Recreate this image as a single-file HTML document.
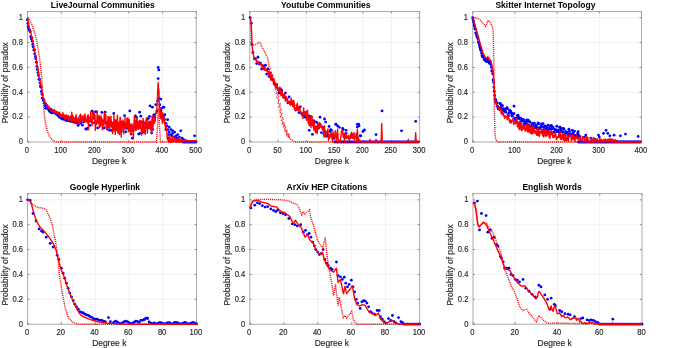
<!DOCTYPE html><html><head><meta charset="utf-8"><style>html,body{margin:0;padding:0;background:#fff;width:675px;height:348px;overflow:hidden}svg{display:block}text{font-family:"Liberation Sans", sans-serif}.t{will-change:transform}</style></head><body>
<svg width="675" height="348" viewBox="0 0 675 348" style="will-change:transform">
<rect width="675" height="348" fill="#fff"/>
<path d="M61.26,11.50V142.00M95.02,11.50V142.00M128.78,11.50V142.00M162.54,11.50V142.00M27.50,117.14H196.30M27.50,92.29H196.30M27.50,67.43H196.30M27.50,42.57H196.30M27.50,17.71H196.30" stroke="#e8e8e8" stroke-width="0.6" fill="none"/>
<rect x="27.50" y="11.50" width="168.80" height="130.50" stroke="#ababab" stroke-width="1" fill="none"/>
<path d="M27.50,142.00v-1.9M27.50,11.50v1.9M61.26,142.00v-1.9M61.26,11.50v1.9M95.02,142.00v-1.9M95.02,11.50v1.9M128.78,142.00v-1.9M128.78,11.50v1.9M162.54,142.00v-1.9M162.54,11.50v1.9M196.30,142.00v-1.9M196.30,11.50v1.9M27.50,142.00h1.9M196.30,142.00h-1.9M27.50,117.14h1.9M196.30,117.14h-1.9M27.50,92.29h1.9M196.30,92.29h-1.9M27.50,67.43h1.9M196.30,67.43h-1.9M27.50,42.57h1.9M196.30,42.57h-1.9M27.50,17.71h1.9M196.30,17.71h-1.9" stroke="#808080" stroke-width="0.9" fill="none"/>
<clipPath id="c0"><rect x="25.50" y="9.50" width="172.80" height="134.50"/></clipPath>
<g clip-path="url(#c0)">
<g fill="#0000ff"><circle cx="27.28" cy="19.81" r="1.4"/><circle cx="27.83" cy="23.45" r="1.4"/><circle cx="28.14" cy="26.62" r="1.4"/><circle cx="28.52" cy="28.69" r="1.4"/><circle cx="29.30" cy="30.19" r="1.4"/><circle cx="29.65" cy="30.13" r="1.4"/><circle cx="30.33" cy="31.86" r="1.4"/><circle cx="30.66" cy="36.64" r="1.4"/><circle cx="31.44" cy="39.06" r="1.4"/><circle cx="31.87" cy="37.82" r="1.4"/><circle cx="32.35" cy="41.21" r="1.4"/><circle cx="32.71" cy="44.47" r="1.4"/><circle cx="33.10" cy="46.82" r="1.4"/><circle cx="33.78" cy="49.97" r="1.4"/><circle cx="34.48" cy="49.84" r="1.4"/><circle cx="34.71" cy="53.99" r="1.4"/><circle cx="35.45" cy="56.74" r="1.4"/><circle cx="35.74" cy="58.58" r="1.4"/><circle cx="36.32" cy="62.24" r="1.4"/><circle cx="36.92" cy="66.29" r="1.4"/><circle cx="37.40" cy="69.41" r="1.4"/><circle cx="37.89" cy="72.60" r="1.4"/><circle cx="38.46" cy="75.42" r="1.4"/><circle cx="39.03" cy="79.22" r="1.4"/><circle cx="39.44" cy="79.50" r="1.4"/><circle cx="40.01" cy="82.90" r="1.4"/><circle cx="40.38" cy="85.89" r="1.4"/><circle cx="41.01" cy="87.19" r="1.4"/><circle cx="41.38" cy="91.52" r="1.4"/><circle cx="42.05" cy="94.25" r="1.4"/><circle cx="42.22" cy="98.03" r="1.4"/><circle cx="43.00" cy="98.57" r="1.4"/><circle cx="43.42" cy="100.44" r="1.4"/><circle cx="43.71" cy="100.30" r="1.4"/><circle cx="44.37" cy="103.17" r="1.4"/><circle cx="44.90" cy="105.64" r="1.4"/><circle cx="45.61" cy="103.79" r="1.4"/><circle cx="45.73" cy="108.30" r="1.4"/><circle cx="46.39" cy="105.34" r="1.4"/><circle cx="46.94" cy="106.05" r="1.4"/><circle cx="47.39" cy="108.13" r="1.4"/><circle cx="48.09" cy="108.01" r="1.4"/><circle cx="48.39" cy="109.25" r="1.4"/><circle cx="49.02" cy="109.95" r="1.4"/><circle cx="49.36" cy="111.10" r="1.4"/><circle cx="50.08" cy="111.64" r="1.4"/><circle cx="50.36" cy="111.84" r="1.4"/><circle cx="51.20" cy="109.71" r="1.4"/><circle cx="51.50" cy="112.97" r="1.4"/><circle cx="51.99" cy="110.75" r="1.4"/><circle cx="52.55" cy="110.94" r="1.4"/><circle cx="53.18" cy="111.53" r="1.4"/><circle cx="53.68" cy="112.91" r="1.4"/><circle cx="53.90" cy="112.17" r="1.4"/><circle cx="54.74" cy="112.87" r="1.4"/><circle cx="54.95" cy="112.14" r="1.4"/><circle cx="55.73" cy="112.41" r="1.4"/><circle cx="56.13" cy="112.62" r="1.4"/><circle cx="56.46" cy="114.23" r="1.4"/><circle cx="57.27" cy="112.93" r="1.4"/><circle cx="57.70" cy="114.71" r="1.4"/><circle cx="58.14" cy="115.68" r="1.4"/><circle cx="58.48" cy="114.04" r="1.4"/><circle cx="59.13" cy="116.29" r="1.4"/><circle cx="59.54" cy="117.23" r="1.4"/><circle cx="59.98" cy="115.62" r="1.4"/><circle cx="60.53" cy="117.18" r="1.4"/><circle cx="61.26" cy="118.25" r="1.4"/><circle cx="61.81" cy="117.30" r="1.4"/><circle cx="62.27" cy="116.02" r="1.4"/><circle cx="62.72" cy="119.14" r="1.4"/><circle cx="63.21" cy="117.91" r="1.4"/><circle cx="63.58" cy="117.89" r="1.4"/><circle cx="64.23" cy="118.61" r="1.4"/><circle cx="64.63" cy="119.50" r="1.4"/><circle cx="65.04" cy="118.23" r="1.4"/><circle cx="65.87" cy="120.43" r="1.4"/><circle cx="66.25" cy="118.80" r="1.4"/><circle cx="66.80" cy="120.00" r="1.4"/><circle cx="67.11" cy="120.23" r="1.4"/><circle cx="67.85" cy="118.24" r="1.4"/><circle cx="68.34" cy="120.47" r="1.4"/><circle cx="68.67" cy="120.53" r="1.4"/><circle cx="69.30" cy="120.85" r="1.4"/><circle cx="69.83" cy="118.87" r="1.4"/><circle cx="70.25" cy="121.29" r="1.4"/><circle cx="70.65" cy="119.93" r="1.4"/><circle cx="71.35" cy="121.39" r="1.4"/><circle cx="71.82" cy="118.83" r="1.4"/><circle cx="72.36" cy="118.98" r="1.4"/><circle cx="72.96" cy="121.35" r="1.4"/><circle cx="73.16" cy="119.09" r="1.4"/><circle cx="73.74" cy="122.13" r="1.4"/><circle cx="74.34" cy="120.82" r="1.4"/><circle cx="74.67" cy="119.27" r="1.4"/><circle cx="75.30" cy="119.07" r="1.4"/><circle cx="75.72" cy="122.62" r="1.4"/><circle cx="76.48" cy="121.81" r="1.4"/><circle cx="77.00" cy="121.19" r="1.4"/><circle cx="77.41" cy="122.64" r="1.4"/><circle cx="77.74" cy="120.62" r="1.4"/><circle cx="78.53" cy="120.17" r="1.4"/><circle cx="79.01" cy="120.42" r="1.4"/><circle cx="79.55" cy="122.50" r="1.4"/><circle cx="79.71" cy="122.56" r="1.4"/><circle cx="80.40" cy="122.16" r="1.4"/><circle cx="80.69" cy="123.15" r="1.4"/><circle cx="78.14" cy="125.41" r="1.4"/><circle cx="79.22" cy="123.29" r="1.4"/><circle cx="80.30" cy="116.32" r="1.4"/><circle cx="81.38" cy="119.91" r="1.4"/><circle cx="82.46" cy="125.20" r="1.4"/><circle cx="83.54" cy="121.97" r="1.4"/><circle cx="84.62" cy="121.13" r="1.4"/><circle cx="85.70" cy="128.96" r="1.4"/><circle cx="86.78" cy="129.13" r="1.4"/><circle cx="87.86" cy="128.11" r="1.4"/><circle cx="88.94" cy="118.32" r="1.4"/><circle cx="90.02" cy="125.40" r="1.4"/><circle cx="91.10" cy="120.79" r="1.4"/><circle cx="92.18" cy="111.19" r="1.4"/><circle cx="93.26" cy="113.63" r="1.4"/><circle cx="94.34" cy="122.68" r="1.4"/><circle cx="95.43" cy="111.86" r="1.4"/><circle cx="96.51" cy="111.87" r="1.4"/><circle cx="97.59" cy="127.95" r="1.4"/><circle cx="98.67" cy="117.65" r="1.4"/><circle cx="99.75" cy="123.33" r="1.4"/><circle cx="100.83" cy="120.66" r="1.4"/><circle cx="101.91" cy="112.44" r="1.4"/><circle cx="102.99" cy="121.68" r="1.4"/><circle cx="104.07" cy="128.00" r="1.4"/><circle cx="105.15" cy="112.16" r="1.4"/><circle cx="106.23" cy="123.19" r="1.4"/><circle cx="107.31" cy="129.01" r="1.4"/><circle cx="108.39" cy="124.23" r="1.4"/><circle cx="109.47" cy="130.35" r="1.4"/><circle cx="110.55" cy="123.62" r="1.4"/><circle cx="111.63" cy="130.42" r="1.4"/><circle cx="112.71" cy="125.55" r="1.4"/><circle cx="113.79" cy="113.42" r="1.4"/><circle cx="114.87" cy="124.15" r="1.4"/><circle cx="115.95" cy="128.98" r="1.4"/><circle cx="117.03" cy="128.52" r="1.4"/><circle cx="118.11" cy="126.61" r="1.4"/><circle cx="119.19" cy="123.62" r="1.4"/><circle cx="120.27" cy="131.52" r="1.4"/><circle cx="121.35" cy="131.24" r="1.4"/><circle cx="122.43" cy="121.98" r="1.4"/><circle cx="123.51" cy="123.45" r="1.4"/><circle cx="124.59" cy="115.68" r="1.4"/><circle cx="125.67" cy="131.89" r="1.4"/><circle cx="126.75" cy="128.21" r="1.4"/><circle cx="127.83" cy="124.04" r="1.4"/><circle cx="128.92" cy="127.58" r="1.4"/><circle cx="130.00" cy="126.64" r="1.4"/><circle cx="131.08" cy="133.99" r="1.4"/><circle cx="132.16" cy="130.32" r="1.4"/><circle cx="133.24" cy="126.91" r="1.4"/><circle cx="134.32" cy="126.97" r="1.4"/><circle cx="135.40" cy="116.02" r="1.4"/><circle cx="136.48" cy="117.32" r="1.4"/><circle cx="137.56" cy="124.61" r="1.4"/><circle cx="138.64" cy="134.06" r="1.4"/><circle cx="139.72" cy="133.48" r="1.4"/><circle cx="140.80" cy="116.13" r="1.4"/><circle cx="141.88" cy="122.24" r="1.4"/><circle cx="142.96" cy="128.35" r="1.4"/><circle cx="144.04" cy="132.15" r="1.4"/><circle cx="145.12" cy="123.70" r="1.4"/><circle cx="146.20" cy="124.90" r="1.4"/><circle cx="147.28" cy="119.34" r="1.4"/><circle cx="148.36" cy="118.41" r="1.4"/><circle cx="149.44" cy="116.40" r="1.4"/><circle cx="150.52" cy="122.30" r="1.4"/><circle cx="151.60" cy="132.89" r="1.4"/><circle cx="152.68" cy="129.60" r="1.4"/><circle cx="153.76" cy="115.39" r="1.4"/><circle cx="154.84" cy="117.38" r="1.4"/><circle cx="155.79" cy="104.71" r="1.4"/><circle cx="156.80" cy="110.93" r="1.4"/><circle cx="157.48" cy="100.99" r="1.4"/><circle cx="159.16" cy="98.50" r="1.4"/><circle cx="159.84" cy="104.71" r="1.4"/><circle cx="160.85" cy="110.93" r="1.4"/><circle cx="161.53" cy="108.44" r="1.4"/><circle cx="162.54" cy="114.66" r="1.4"/><circle cx="163.55" cy="117.14" r="1.4"/><circle cx="164.57" cy="119.63" r="1.4"/><circle cx="165.92" cy="123.36" r="1.4"/><circle cx="166.93" cy="125.84" r="1.4"/><circle cx="167.94" cy="129.57" r="1.4"/><circle cx="169.29" cy="132.06" r="1.4"/><circle cx="170.98" cy="134.54" r="1.4"/><circle cx="172.67" cy="133.30" r="1.4"/><circle cx="174.36" cy="137.03" r="1.4"/><circle cx="176.04" cy="135.79" r="1.4"/><circle cx="177.73" cy="138.27" r="1.4"/><circle cx="154.10" cy="114.66" r="1.4"/><circle cx="152.41" cy="107.20" r="1.4"/><circle cx="129.79" cy="110.93" r="1.4"/><circle cx="139.58" cy="112.17" r="1.4"/><circle cx="150.05" cy="105.96" r="1.4"/><circle cx="132.49" cy="138.27" r="1.4"/><circle cx="158.15" cy="67.43" r="1.4"/><circle cx="158.83" cy="69.91" r="1.4"/><circle cx="158.15" cy="78.61" r="1.4"/><circle cx="160.85" cy="99.12" r="1.4"/><circle cx="163.22" cy="107.20" r="1.4"/><circle cx="163.89" cy="107.20" r="1.4"/><circle cx="164.90" cy="114.66" r="1.4"/><circle cx="167.60" cy="119.63" r="1.4"/><circle cx="169.29" cy="127.09" r="1.4"/><circle cx="170.98" cy="129.57" r="1.4"/><circle cx="172.67" cy="130.81" r="1.4"/><circle cx="174.69" cy="132.06" r="1.4"/><circle cx="177.73" cy="134.54" r="1.4"/><circle cx="180.77" cy="130.81" r="1.4"/><circle cx="179.42" cy="137.03" r="1.4"/><circle cx="182.12" cy="138.27" r="1.4"/><circle cx="183.47" cy="139.51" r="1.4"/><circle cx="186.17" cy="140.76" r="1.4"/><circle cx="194.61" cy="135.79" r="1.4"/><circle cx="165.92" cy="129.57" r="1.4"/><circle cx="168.62" cy="134.54" r="1.4"/><circle cx="171.99" cy="135.79" r="1.4"/><circle cx="176.04" cy="138.27" r="1.4"/><circle cx="182.80" cy="142.00" r="1.4"/><circle cx="183.81" cy="142.00" r="1.4"/><circle cx="184.82" cy="142.00" r="1.4"/><circle cx="185.83" cy="142.00" r="1.4"/><circle cx="186.85" cy="142.00" r="1.4"/><circle cx="187.86" cy="142.00" r="1.4"/><circle cx="188.87" cy="142.00" r="1.4"/><circle cx="189.89" cy="142.00" r="1.4"/><circle cx="190.90" cy="142.00" r="1.4"/><circle cx="191.91" cy="142.00" r="1.4"/><circle cx="192.92" cy="142.00" r="1.4"/><circle cx="193.94" cy="142.00" r="1.4"/><circle cx="194.95" cy="142.00" r="1.4"/><circle cx="195.96" cy="142.00" r="1.4"/></g>
<path d="M27.50,17.71L27.77,19.29L28.04,20.88L28.31,22.51L28.58,24.05L28.85,25.64L29.12,26.92L29.39,27.94L29.66,28.90L29.93,29.93L30.20,31.00L30.47,31.80L30.74,32.79L31.01,33.69L31.28,34.93L31.55,36.05L31.82,37.14L32.09,38.35L32.36,39.05L32.63,40.43L32.90,41.52L33.17,42.78L33.44,43.90L33.71,45.55L33.98,47.21L34.25,48.58L34.52,49.72L34.79,51.31L35.06,52.87L35.33,54.17L35.60,55.38L35.87,56.56L36.14,58.89L36.41,60.23L36.68,61.79L36.95,63.76L37.22,64.84L37.49,66.52L37.76,67.54L38.03,69.61L38.30,71.79L38.57,72.72L38.84,74.74L39.11,76.92L39.38,78.20L39.65,79.55L39.92,80.81L40.19,81.61L40.46,83.66L40.73,84.03L41.00,85.14L41.27,86.99L41.54,88.67L41.81,90.45L42.08,91.91L42.35,94.19L42.62,94.41L42.89,96.79L43.16,97.33L43.43,98.97L43.70,98.19L43.97,98.69L44.24,100.12L44.52,99.76L44.79,101.69L45.06,101.92L45.33,102.57L45.60,103.90L45.87,103.73L46.14,103.53L46.41,105.53L46.68,104.68L46.95,105.56L47.22,104.67L47.49,105.69L47.76,105.83L48.03,106.11L48.30,106.61L48.57,107.92L48.84,106.39L49.11,108.45L49.38,107.66L49.65,107.66L49.92,108.91L50.19,108.50L50.46,108.04L50.73,109.14L51.00,110.01L51.27,111.61L51.54,110.61L51.81,110.49L52.08,110.58L52.35,111.06L52.62,110.18L52.89,111.05L53.16,110.83L53.43,110.35L53.70,111.70L53.97,111.40L54.24,109.55L54.51,110.72L54.78,112.67L55.05,111.78L55.32,111.35L55.59,110.86L55.86,111.99L56.13,112.78L56.40,113.13L56.67,111.89L56.94,112.36L57.21,113.37L57.48,113.16L57.75,113.56L58.02,112.40L58.29,114.16L58.56,112.91L58.83,112.59L59.10,113.15L59.37,114.93L59.64,112.28L59.91,115.03L60.18,113.70L60.45,115.43L60.72,116.95L60.99,114.34L61.26,114.38L61.53,115.03L61.80,114.64L62.07,116.16L62.34,116.44L62.61,115.70L62.88,112.55L63.15,114.39L63.42,116.68L63.69,115.04L63.96,116.90L64.23,117.00L64.50,114.86L64.77,117.40L65.04,119.59L65.31,118.38L65.58,116.71L65.85,116.76L66.12,114.80L66.39,118.62L66.66,115.98L66.93,116.62L67.20,117.80L67.47,115.89L67.74,116.62L68.01,119.44L68.28,115.52L68.55,120.33L68.82,117.72L69.09,117.90L69.36,117.05L69.63,119.58L69.90,118.15L70.17,118.44L70.44,115.99L70.71,120.01L70.98,118.14L71.25,118.95L71.52,121.36L71.79,112.32L72.06,118.65L72.33,121.99L72.60,115.27L72.87,121.14L73.14,117.77L73.41,116.63L73.68,120.30L73.95,119.82L74.22,120.14L74.49,119.18L74.76,122.92L75.03,122.03L75.30,119.34L75.57,116.40L75.84,117.46L76.11,114.68L76.38,117.36L76.65,120.52L76.92,119.56L77.19,124.62L77.46,121.86L77.73,122.08L78.00,118.67L78.28,117.69L78.55,121.01L78.82,121.13L79.09,123.82L79.36,119.96L79.63,118.96L79.90,118.44L80.17,121.94L80.44,114.13L80.71,116.40L80.98,120.13L81.25,121.42L81.52,120.87L81.79,119.54L82.06,120.08L82.33,118.63L82.60,117.82L82.87,116.06L83.14,116.74L83.41,120.56L83.68,119.08L83.95,121.47L84.22,122.12L84.49,114.43L84.76,121.80L85.03,114.17L85.30,121.52L85.57,119.65L85.84,117.01L86.11,120.42L86.38,119.26L86.65,121.33L86.92,122.12L87.19,121.14L87.46,122.76L87.73,115.27L88.00,121.24L88.27,114.97L88.54,129.73L88.81,120.70L89.08,118.88L89.35,121.81L89.62,117.10L89.89,118.67L90.16,121.84L90.43,119.42L90.70,111.45L90.97,120.11L91.24,119.96L91.51,122.61L91.78,120.61L92.05,125.72L92.32,121.85L92.59,112.31L92.86,117.34L93.13,118.90L93.40,117.23L93.67,114.38L93.94,119.14L94.21,113.68L94.48,117.41L94.75,120.80L95.02,114.99L95.29,130.38L95.56,123.67L95.83,120.53L96.10,125.03L96.37,122.18L96.64,124.05L96.91,124.14L97.18,111.22L97.45,119.26L97.72,121.91L97.99,116.62L98.26,122.67L98.53,118.32L98.80,120.43L99.07,115.44L99.34,127.43L99.61,118.85L99.88,121.41L100.15,126.51L100.42,117.70L100.69,125.45L100.96,115.51L101.23,119.96L101.50,119.24L101.77,121.74L102.04,118.43L102.31,129.68L102.58,121.83L102.85,124.72L103.12,121.03L103.39,122.40L103.66,119.70L103.93,125.71L104.20,114.68L104.47,112.71L104.74,123.19L105.01,122.41L105.28,121.18L105.55,117.14L105.82,114.51L106.09,127.59L106.36,125.15L106.63,127.09L106.90,127.36L107.17,129.66L107.44,121.18L107.71,127.73L107.98,116.37L108.25,118.96L108.52,127.34L108.79,127.39L109.06,125.64L109.33,116.96L109.60,126.77L109.87,129.63L110.14,123.38L110.41,121.57L110.68,126.13L110.95,116.16L111.22,122.27L111.49,121.37L111.76,127.22L112.04,123.64L112.31,124.20L112.58,133.67L112.85,122.31L113.12,131.65L113.39,123.81L113.66,130.32L113.93,114.71L114.20,122.34L114.47,119.98L114.74,119.76L115.01,129.90L115.28,134.27L115.55,125.49L115.82,119.97L116.09,123.64L116.36,120.52L116.63,119.85L116.90,130.91L117.17,122.84L117.44,115.22L117.71,126.80L117.98,133.49L118.25,125.31L118.52,126.40L118.79,122.38L119.06,128.42L119.33,123.93L119.60,134.57L119.87,120.47L120.14,117.11L120.41,118.46L120.68,131.48L120.95,123.02L121.22,137.16L121.49,123.24L121.76,124.87L122.03,129.23L122.30,123.02L122.57,124.01L122.84,120.29L123.11,124.10L123.38,123.63L123.65,133.85L123.92,130.21L124.19,127.03L124.46,123.43L124.73,124.88L125.00,117.81L125.27,129.00L125.54,126.05L125.81,123.74L126.08,126.07L126.35,122.65L126.62,127.73L126.89,118.31L127.16,126.59L127.43,119.79L127.70,125.27L127.97,118.03L128.24,131.85L128.51,122.73L128.78,127.29L129.05,124.14L129.32,119.56L129.59,130.75L129.86,131.65L130.13,130.12L130.40,124.15L130.67,134.42L130.94,124.96L131.21,131.60L131.48,130.94L131.75,127.26L132.02,123.70L132.29,128.54L132.56,127.92L132.83,125.79L133.10,126.92L133.37,138.45L133.64,127.73L133.91,125.29L134.18,120.47L134.45,115.95L134.72,122.58L134.99,125.41L135.26,130.43L135.53,125.42L135.80,122.14L136.07,119.84L136.34,130.13L136.61,124.81L136.88,122.06L137.15,117.09L137.42,124.79L137.69,128.63L137.96,129.37L138.23,127.80L138.50,129.24L138.77,122.19L139.04,121.05L139.31,122.72L139.58,120.51L139.85,128.41L140.12,124.45L140.39,128.13L140.66,126.11L140.93,120.48L141.20,126.51L141.47,135.31L141.74,127.62L142.01,129.85L142.28,133.68L142.55,130.27L142.82,121.91L143.09,118.48L143.36,128.88L143.63,121.77L143.90,120.95L144.17,132.15L144.44,126.81L144.71,126.86L144.98,125.84L145.25,134.31L145.52,128.37L145.80,121.66L146.07,120.70L146.34,118.00L146.61,128.40L146.88,117.86L147.15,123.64L147.42,133.35L147.69,123.22L147.96,128.57L148.23,124.42L148.50,127.41L148.77,121.16L149.04,125.73L149.31,128.33L149.58,122.38L149.85,125.80L150.12,129.02L150.39,120.95L150.66,129.03L150.93,129.81L151.20,128.92L151.47,132.93L151.74,128.13L152.01,116.16L152.28,128.98L152.55,124.17L152.82,129.09L153.09,126.28L153.36,115.26L153.63,117.41L153.90,123.79L154.17,120.01L154.44,123.17L154.71,122.14L154.98,121.93L155.25,120.65L155.52,114.40L155.79,112.75L156.06,112.42L156.33,112.99L156.60,113.41L156.87,109.73L157.14,104.71L157.41,99.38L157.68,92.82L157.95,85.40L158.22,82.79L158.49,90.41L158.76,88.81L159.03,93.24L159.30,107.28L159.57,107.52L159.84,107.30L160.11,117.17L160.38,109.62L160.65,116.40L160.92,118.97L161.19,112.06L161.46,115.67L161.73,118.88L162.00,114.72L162.27,123.38L162.54,112.67L162.81,120.68L163.08,117.81L163.35,120.12L163.62,118.04L163.89,117.09L164.16,122.97L164.43,119.39L164.70,123.44L164.97,125.54L165.24,125.23L165.51,128.39L165.78,128.79L166.05,125.16L166.32,129.59L166.59,127.44L166.86,130.79L167.13,136.11L167.40,139.82L167.67,137.90L167.94,136.54L168.21,138.37L168.48,141.71L168.75,137.56L169.02,142.00L169.29,142.00L169.56,140.06L169.83,134.97L170.10,139.50L170.37,142.00L170.64,139.22L170.91,139.08L171.18,138.50L171.45,141.73L171.72,142.00L171.99,140.48L172.26,139.79L172.53,137.07L172.80,135.98L173.07,142.00L173.34,141.93L173.61,140.90L173.88,141.31L174.15,139.69L174.42,139.70L174.69,140.20L174.96,137.90L175.23,141.09L175.50,142.00L175.77,142.00L176.04,142.00L176.31,142.00L176.58,142.00L176.85,139.51L177.12,140.42L177.39,141.51L177.66,142.00L177.93,142.00L178.20,142.00L178.47,137.88L178.74,142.00L179.01,140.55L179.28,139.72L179.56,140.57L179.83,141.16L180.10,139.81L180.37,142.00L180.64,140.13L180.91,139.23L181.18,141.81L181.45,141.54L181.72,140.63L181.99,139.92L182.26,139.70L182.53,140.25L182.80,141.21L183.07,140.91L183.34,140.76L183.61,140.76L183.88,140.76L184.15,140.76L184.42,140.76L184.69,140.76L184.96,140.76L185.23,140.76L185.50,140.76L185.77,140.76L186.04,140.76L186.31,140.76L186.58,140.76L186.85,140.76L187.12,140.76L187.39,140.76L187.66,140.76L187.93,140.76L188.20,140.76L188.47,140.76L188.74,140.76L189.01,140.76L189.28,140.76L189.55,140.76L189.82,140.76L190.09,140.76L190.36,140.76L190.63,140.76L190.90,140.76L191.17,140.76L191.44,140.76L191.71,140.76L191.98,140.76L192.25,140.76L192.52,140.76L192.79,140.76L193.06,140.76L193.33,140.76L193.60,140.76L193.87,140.76L194.14,140.76L194.41,140.76L194.68,140.76L194.95,140.76L195.22,140.76L195.49,140.76L195.76,140.76L196.03,140.76L196.30,140.76L196.57,140.76" stroke="#ff0000" stroke-width="1.4" stroke-linejoin="round" fill="none"/>
<path d="M27.50,17.71L27.84,18.07L28.18,18.42L28.51,18.78L28.85,19.13L29.19,19.49L29.53,19.84L29.86,20.20L30.20,20.98L30.54,21.75L30.88,22.53L31.21,23.31L31.55,24.08L31.89,24.86L32.23,25.64L32.56,26.41L32.90,27.45L33.24,28.49L33.58,29.52L33.91,30.56L34.25,31.59L34.59,32.63L34.93,33.87L35.26,35.11L35.60,36.36L35.94,37.60L36.28,38.84L36.62,40.71L36.95,42.57L37.29,44.44L37.63,46.30L37.97,48.29L38.30,50.28L38.64,52.27L38.98,54.25L39.32,56.24L39.65,58.98L39.99,61.71L40.33,64.45L40.67,67.18L41.00,69.91L41.34,73.82L41.68,77.73L42.02,81.63L42.35,86.32L42.69,91.79L43.03,97.26L43.37,102.23L43.70,107.20L44.04,112.17L44.38,114.97L44.72,117.76L45.06,120.56L45.39,123.36L45.73,124.65L46.07,125.93L46.41,127.22L46.74,128.51L47.08,129.80L47.42,130.90L47.76,131.88L48.09,132.86L48.43,133.83L48.77,134.81L49.11,135.79L49.44,136.25L49.78,136.71L50.12,137.17L50.46,137.63L50.79,138.09L51.13,138.56L51.47,139.02L51.81,139.28L52.14,139.54L52.48,139.80L52.82,140.07L53.16,140.33L53.50,140.59L53.83,140.85L54.17,141.12L54.51,141.38L54.85,141.44L55.18,141.50L55.52,141.56L55.86,141.63L56.20,141.69L56.53,141.75L56.87,141.81L57.21,141.88L57.55,141.94L57.88,142.00L58.22,142.00L58.56,142.00L58.90,142.00L59.23,142.00L59.57,142.00L59.91,142.00L60.25,142.00L60.58,142.00L60.92,142.00L61.26,142.00L61.60,142.00L61.94,142.00L62.27,142.00L62.61,142.00L62.95,142.00L63.29,142.00L63.62,142.00L63.96,142.00L64.30,142.00L64.64,142.00L64.97,142.00L65.31,142.00L65.65,142.00L65.99,142.00L66.32,142.00L66.66,142.00L67.00,142.00L67.34,142.00L67.67,142.00L68.01,142.00L68.35,142.00L68.69,142.00L69.02,142.00L69.36,142.00L69.70,142.00L70.04,142.00L70.38,142.00L70.71,142.00L71.05,142.00L71.39,142.00L71.73,142.00L72.06,142.00L72.40,142.00L72.74,142.00L73.08,142.00L73.41,142.00L73.75,142.00L74.09,142.00L74.43,142.00L74.76,142.00L75.10,142.00L75.44,142.00L75.78,142.00L76.11,142.00L76.45,142.00L76.79,142.00L77.13,142.00L77.46,142.00L77.80,142.00L78.14,142.00L78.48,142.00L78.82,142.00L79.15,142.00L79.49,142.00L79.83,142.00L80.17,142.00L80.50,142.00L80.84,142.00L81.18,142.00L81.52,142.00L81.85,142.00L82.19,142.00L82.53,142.00L82.87,142.00L83.20,142.00L83.54,142.00L83.88,142.00L84.22,142.00L84.55,142.00L84.89,142.00L85.23,142.00L85.57,142.00L85.90,142.00L86.24,142.00L86.58,142.00L86.92,142.00L87.26,142.00L87.59,142.00L87.93,142.00L88.27,142.00L88.61,142.00L88.94,142.00L89.28,142.00L89.62,142.00L89.96,142.00L90.29,142.00L90.63,142.00L90.97,142.00L91.31,142.00L91.64,142.00L91.98,142.00L92.32,142.00L92.66,142.00L92.99,142.00L93.33,142.00L93.67,142.00L94.01,142.00L94.34,142.00L94.68,142.00L95.02,142.00L95.36,142.00L95.70,142.00L96.03,142.00L96.37,142.00L96.71,142.00L97.05,142.00L97.38,142.00L97.72,142.00L98.06,142.00L98.40,142.00L98.73,142.00L99.07,142.00L99.41,142.00L99.75,142.00L100.08,142.00L100.42,142.00L100.76,142.00L101.10,142.00L101.43,142.00L101.77,142.00L102.11,142.00L102.45,142.00L102.78,142.00L103.12,142.00L103.46,142.00L103.80,142.00L104.14,142.00L104.47,142.00L104.81,142.00L105.15,142.00L105.49,142.00L105.82,142.00L106.16,142.00L106.50,142.00L106.84,142.00L107.17,142.00L107.51,142.00L107.85,142.00L108.19,142.00L108.52,142.00L108.86,142.00L109.20,142.00L109.54,142.00L109.87,142.00L110.21,142.00L110.55,142.00L110.89,142.00L111.22,142.00L111.56,142.00L111.90,142.00L112.24,142.00L112.58,142.00L112.91,142.00L113.25,142.00L113.59,142.00L113.93,142.00L114.26,142.00L114.60,142.00L114.94,142.00L115.28,142.00L115.61,142.00L115.95,142.00L116.29,142.00L116.63,142.00L116.96,142.00L117.30,142.00L117.64,142.00L117.98,142.00L118.31,142.00L118.65,142.00L118.99,142.00L119.33,142.00L119.66,142.00L120.00,142.00L120.34,142.00L120.68,142.00L121.02,142.00L121.35,142.00L121.69,142.00L122.03,142.00L122.37,142.00L122.70,142.00L123.04,142.00L123.38,142.00L123.72,142.00L124.05,142.00L124.39,142.00L124.73,142.00L125.07,142.00L125.40,142.00L125.74,142.00L126.08,142.00L126.42,142.00L126.75,142.00L127.09,142.00L127.43,142.00L127.77,142.00L128.10,142.00L128.44,142.00L128.78,142.00L129.12,142.00L129.46,142.00L129.79,142.00L130.13,142.00L130.47,142.00L130.81,142.00L131.14,142.00L131.48,142.00L131.82,142.00L132.16,142.00L132.49,142.00L132.83,142.00L133.17,142.00L133.51,142.00L133.84,142.00L134.18,142.00L134.52,142.00L134.86,142.00L135.19,142.00L135.53,142.00L135.87,142.00L136.21,142.00L136.54,142.00L136.88,142.00L137.22,142.00L137.56,142.00L137.90,142.00L138.23,142.00L138.57,142.00L138.91,142.00L139.25,142.00L139.58,142.00L139.92,142.00L140.26,142.00L140.60,142.00L140.93,142.00L141.27,142.00L141.61,142.00L141.95,142.00L142.28,142.00L142.62,142.00L142.96,142.00L143.30,142.00L143.63,142.00L143.97,142.00L144.31,142.00L144.65,142.00L144.98,142.00L145.32,142.00L145.66,142.00L146.00,142.00L146.34,142.00L146.67,142.00L147.01,142.00L147.35,142.00L147.69,142.00L148.02,142.00L148.36,142.00L148.70,142.00L149.04,142.00L149.37,142.00L149.71,142.00L150.05,142.00L150.39,142.00L150.72,142.00L151.06,142.00L151.40,142.00L151.74,142.00L152.07,142.00L152.41,142.00L152.75,142.00L153.09,142.00L153.42,142.00L153.76,142.00L154.10,142.00L154.44,142.00L154.78,142.00L155.11,142.00L155.45,142.00L155.79,142.00L156.13,142.00L156.46,142.00L156.80,137.03L157.14,132.06L157.48,127.09L157.81,117.76L158.15,108.44L158.49,108.44L158.83,108.44L159.16,117.76L159.50,127.09L159.84,132.06L160.18,137.03L160.51,142.00L160.85,142.00L161.19,142.00L161.53,142.00L161.86,142.00L162.20,142.00L162.54,142.00L162.88,142.00L163.22,142.00L163.55,142.00L163.89,142.00L164.23,142.00L164.57,142.00L164.90,142.00L165.24,142.00L165.58,142.00L165.92,142.00L166.25,142.00L166.59,142.00L166.93,142.00L167.27,142.00L167.60,142.00L167.94,142.00L168.28,142.00L168.62,142.00L168.95,142.00L169.29,142.00L169.63,142.00L169.97,142.00L170.30,142.00L170.64,142.00L170.98,142.00L171.32,142.00L171.66,142.00L171.99,142.00L172.33,142.00L172.67,142.00L173.01,142.00L173.34,142.00L173.68,142.00L174.02,142.00L174.36,142.00L174.69,142.00L175.03,142.00L175.37,142.00L175.71,142.00L176.04,142.00L176.38,142.00L176.72,142.00L177.06,142.00L177.39,142.00L177.73,142.00L178.07,142.00L178.41,142.00L178.74,142.00L179.08,142.00L179.42,142.00L179.76,142.00L180.10,142.00L180.43,142.00L180.77,142.00L181.11,142.00L181.45,142.00L181.78,142.00L182.12,142.00L182.46,142.00L182.80,142.00L183.13,142.00L183.47,142.00L183.81,142.00L184.15,142.00L184.48,142.00L184.82,142.00L185.16,142.00L185.50,142.00L185.83,142.00L186.17,142.00L186.51,142.00L186.85,142.00L187.18,142.00L187.52,142.00L187.86,142.00L188.20,142.00L188.54,142.00L188.87,142.00L189.21,142.00L189.55,142.00L189.89,142.00L190.22,142.00L190.56,142.00L190.90,142.00L191.24,142.00L191.57,142.00L191.91,142.00L192.25,142.00L192.59,142.00L192.92,142.00L193.26,142.00L193.60,142.00L193.94,142.00L194.27,142.00L194.61,142.00L194.95,142.00L195.29,142.00L195.62,142.00L195.96,142.00L196.30,142.00" stroke="#ff0000" stroke-width="1.45" stroke-dasharray="1 0.95" fill="none"/>
</g>
<g font-size="8.20" fill="#262626" stroke="#262626" stroke-width="0.15"><text x="24.79" y="152.90" textLength="4.23" lengthAdjust="spacingAndGlyphs">0</text><text x="54.32" y="152.90" textLength="12.68" lengthAdjust="spacingAndGlyphs">100</text><text x="88.08" y="152.90" textLength="12.68" lengthAdjust="spacingAndGlyphs">200</text><text x="121.84" y="152.90" textLength="12.68" lengthAdjust="spacingAndGlyphs">300</text><text x="155.60" y="152.90" textLength="12.68" lengthAdjust="spacingAndGlyphs">400</text><text x="189.36" y="152.90" textLength="12.68" lengthAdjust="spacingAndGlyphs">500</text><text x="18.67" y="144.30" textLength="4.23" lengthAdjust="spacingAndGlyphs">0</text><text x="12.33" y="119.44" textLength="10.57" lengthAdjust="spacingAndGlyphs">0.2</text><text x="12.33" y="94.59" textLength="10.57" lengthAdjust="spacingAndGlyphs">0.4</text><text x="12.33" y="69.73" textLength="10.57" lengthAdjust="spacingAndGlyphs">0.6</text><text x="12.33" y="44.87" textLength="10.57" lengthAdjust="spacingAndGlyphs">0.8</text><text x="18.67" y="20.01" textLength="4.23" lengthAdjust="spacingAndGlyphs">1</text></g>
<text x="109.10" y="163.80" text-anchor="middle" font-size="8.45" fill="#262626" stroke="#262626" stroke-width="0.15">Degree k</text>
<text transform="translate(7.60,82.75) rotate(-90)" text-anchor="middle" font-size="8.4" fill="#262626" stroke="#262626" stroke-width="0.15">Probability of paradox</text>
<text x="102.80" y="7.50" text-anchor="middle" font-size="8.5" font-weight="bold" fill="#000">LiveJournal Communities</text>
<path d="M278.11,11.50V142.00M306.42,11.50V142.00M334.73,11.50V142.00M363.03,11.50V142.00M391.34,11.50V142.00M249.80,117.14H419.65M249.80,92.29H419.65M249.80,67.43H419.65M249.80,42.57H419.65M249.80,17.71H419.65" stroke="#e8e8e8" stroke-width="0.6" fill="none"/>
<rect x="249.80" y="11.50" width="169.85" height="130.50" stroke="#ababab" stroke-width="1" fill="none"/>
<path d="M249.80,142.00v-1.9M249.80,11.50v1.9M278.11,142.00v-1.9M278.11,11.50v1.9M306.42,142.00v-1.9M306.42,11.50v1.9M334.73,142.00v-1.9M334.73,11.50v1.9M363.03,142.00v-1.9M363.03,11.50v1.9M391.34,142.00v-1.9M391.34,11.50v1.9M419.65,142.00v-1.9M419.65,11.50v1.9M249.80,142.00h1.9M419.65,142.00h-1.9M249.80,117.14h1.9M419.65,117.14h-1.9M249.80,92.29h1.9M419.65,92.29h-1.9M249.80,67.43h1.9M419.65,67.43h-1.9M249.80,42.57h1.9M419.65,42.57h-1.9M249.80,17.71h1.9M419.65,17.71h-1.9" stroke="#808080" stroke-width="0.9" fill="none"/>
<clipPath id="c1"><rect x="247.80" y="9.50" width="173.85" height="134.50"/></clipPath>
<g clip-path="url(#c1)">
<g fill="#0000ff"><circle cx="250.08" cy="17.71" r="1.4"/><circle cx="251.33" cy="23.31" r="1.4"/><circle cx="251.89" cy="44.31" r="1.4"/><circle cx="252.91" cy="52.51" r="1.4"/><circle cx="254.33" cy="58.73" r="1.4"/><circle cx="255.46" cy="58.94" r="1.4"/><circle cx="256.71" cy="63.61" r="1.4"/><circle cx="257.95" cy="57.23" r="1.4"/><circle cx="259.20" cy="63.64" r="1.4"/><circle cx="260.44" cy="63.09" r="1.4"/><circle cx="261.69" cy="69.00" r="1.4"/><circle cx="262.94" cy="65.85" r="1.4"/><circle cx="264.18" cy="67.69" r="1.4"/><circle cx="265.43" cy="65.26" r="1.4"/><circle cx="266.67" cy="74.10" r="1.4"/><circle cx="267.92" cy="68.81" r="1.4"/><circle cx="269.16" cy="76.61" r="1.4"/><circle cx="270.41" cy="73.06" r="1.4"/><circle cx="271.65" cy="75.93" r="1.4"/><circle cx="272.90" cy="79.52" r="1.4"/><circle cx="274.15" cy="83.83" r="1.4"/><circle cx="275.39" cy="85.11" r="1.4"/><circle cx="276.64" cy="84.70" r="1.4"/><circle cx="277.88" cy="88.74" r="1.4"/><circle cx="279.13" cy="92.92" r="1.4"/><circle cx="280.37" cy="88.82" r="1.4"/><circle cx="281.62" cy="90.25" r="1.4"/><circle cx="282.86" cy="95.43" r="1.4"/><circle cx="284.11" cy="97.50" r="1.4"/><circle cx="285.36" cy="93.03" r="1.4"/><circle cx="286.60" cy="99.04" r="1.4"/><circle cx="287.85" cy="102.67" r="1.4"/><circle cx="289.09" cy="96.98" r="1.4"/><circle cx="290.34" cy="103.68" r="1.4"/><circle cx="291.58" cy="103.53" r="1.4"/><circle cx="292.83" cy="103.25" r="1.4"/><circle cx="294.07" cy="105.28" r="1.4"/><circle cx="295.32" cy="108.69" r="1.4"/><circle cx="296.57" cy="109.61" r="1.4"/><circle cx="297.81" cy="108.31" r="1.4"/><circle cx="299.06" cy="112.60" r="1.4"/><circle cx="300.30" cy="106.92" r="1.4"/><circle cx="301.55" cy="113.52" r="1.4"/><circle cx="302.79" cy="115.56" r="1.4"/><circle cx="304.04" cy="116.32" r="1.4"/><circle cx="305.28" cy="117.26" r="1.4"/><circle cx="306.53" cy="112.07" r="1.4"/><circle cx="307.78" cy="117.38" r="1.4"/><circle cx="309.02" cy="115.92" r="1.4"/><circle cx="310.27" cy="116.68" r="1.4"/><circle cx="311.51" cy="124.43" r="1.4"/><circle cx="312.76" cy="121.22" r="1.4"/><circle cx="314.00" cy="120.81" r="1.4"/><circle cx="315.25" cy="127.33" r="1.4"/><circle cx="316.49" cy="122.25" r="1.4"/><circle cx="317.74" cy="126.69" r="1.4"/><circle cx="318.99" cy="127.82" r="1.4"/><circle cx="320.23" cy="124.65" r="1.4"/><circle cx="321.48" cy="132.70" r="1.4"/><circle cx="322.72" cy="127.16" r="1.4"/><circle cx="323.97" cy="133.80" r="1.4"/><circle cx="325.21" cy="131.57" r="1.4"/><circle cx="326.46" cy="136.24" r="1.4"/><circle cx="327.70" cy="134.23" r="1.4"/><circle cx="328.95" cy="135.67" r="1.4"/><circle cx="330.20" cy="131.52" r="1.4"/><circle cx="331.44" cy="130.12" r="1.4"/><circle cx="332.69" cy="137.62" r="1.4"/><circle cx="333.93" cy="138.47" r="1.4"/><circle cx="320.00" cy="117.14" r="1.4"/><circle cx="324.53" cy="119.01" r="1.4"/><circle cx="325.67" cy="122.11" r="1.4"/><circle cx="329.06" cy="126.46" r="1.4"/><circle cx="330.76" cy="129.57" r="1.4"/><circle cx="309.25" cy="130.32" r="1.4"/><circle cx="312.42" cy="134.29" r="1.4"/><circle cx="335.86" cy="124.23" r="1.4"/><circle cx="337.56" cy="125.84" r="1.4"/><circle cx="342.65" cy="128.33" r="1.4"/><circle cx="346.05" cy="130.32" r="1.4"/><circle cx="352.84" cy="134.92" r="1.4"/><circle cx="358.50" cy="124.23" r="1.4"/><circle cx="359.07" cy="125.84" r="1.4"/><circle cx="360.77" cy="135.79" r="1.4"/><circle cx="363.03" cy="131.44" r="1.4"/><circle cx="364.45" cy="129.94" r="1.4"/><circle cx="335.86" cy="124.35" r="1.4"/><circle cx="339.25" cy="127.33" r="1.4"/><circle cx="343.22" cy="129.57" r="1.4"/><circle cx="357.37" cy="124.35" r="1.4"/><circle cx="357.37" cy="127.09" r="1.4"/><circle cx="363.03" cy="131.06" r="1.4"/><circle cx="360.20" cy="135.79" r="1.4"/><circle cx="351.71" cy="135.79" r="1.4"/><circle cx="376.06" cy="134.54" r="1.4"/><circle cx="382.06" cy="110.93" r="1.4"/><circle cx="401.53" cy="130.81" r="1.4"/><circle cx="415.69" cy="121.37" r="1.4"/><circle cx="346.05" cy="133.30" r="1.4"/><circle cx="348.88" cy="138.27" r="1.4"/><circle cx="334.73" cy="142.00" r="1.4"/><circle cx="336.14" cy="142.00" r="1.4"/><circle cx="337.56" cy="142.00" r="1.4"/><circle cx="338.97" cy="142.00" r="1.4"/><circle cx="340.39" cy="142.00" r="1.4"/><circle cx="341.80" cy="142.00" r="1.4"/><circle cx="343.22" cy="142.00" r="1.4"/><circle cx="344.63" cy="142.00" r="1.4"/><circle cx="346.05" cy="142.00" r="1.4"/><circle cx="347.46" cy="142.00" r="1.4"/><circle cx="348.88" cy="142.00" r="1.4"/><circle cx="350.29" cy="142.00" r="1.4"/><circle cx="351.71" cy="142.00" r="1.4"/><circle cx="353.13" cy="142.00" r="1.4"/><circle cx="354.54" cy="142.00" r="1.4"/><circle cx="355.96" cy="142.00" r="1.4"/><circle cx="357.37" cy="142.00" r="1.4"/><circle cx="358.79" cy="142.00" r="1.4"/><circle cx="360.20" cy="142.00" r="1.4"/><circle cx="361.62" cy="142.00" r="1.4"/><circle cx="363.03" cy="142.00" r="1.4"/><circle cx="364.45" cy="142.00" r="1.4"/><circle cx="365.86" cy="142.00" r="1.4"/><circle cx="367.28" cy="142.00" r="1.4"/><circle cx="368.69" cy="142.00" r="1.4"/><circle cx="370.11" cy="142.00" r="1.4"/><circle cx="371.53" cy="142.00" r="1.4"/><circle cx="372.94" cy="142.00" r="1.4"/><circle cx="374.36" cy="142.00" r="1.4"/><circle cx="375.77" cy="142.00" r="1.4"/><circle cx="377.19" cy="142.00" r="1.4"/><circle cx="378.60" cy="142.00" r="1.4"/><circle cx="380.02" cy="142.00" r="1.4"/><circle cx="381.43" cy="142.00" r="1.4"/><circle cx="382.85" cy="142.00" r="1.4"/><circle cx="384.26" cy="142.00" r="1.4"/><circle cx="385.68" cy="142.00" r="1.4"/><circle cx="387.10" cy="142.00" r="1.4"/><circle cx="388.51" cy="142.00" r="1.4"/><circle cx="389.93" cy="142.00" r="1.4"/><circle cx="391.34" cy="142.00" r="1.4"/><circle cx="392.76" cy="142.00" r="1.4"/><circle cx="394.17" cy="142.00" r="1.4"/><circle cx="395.59" cy="142.00" r="1.4"/><circle cx="397.00" cy="142.00" r="1.4"/><circle cx="398.42" cy="142.00" r="1.4"/><circle cx="399.83" cy="142.00" r="1.4"/><circle cx="401.25" cy="142.00" r="1.4"/><circle cx="402.66" cy="142.00" r="1.4"/><circle cx="404.08" cy="142.00" r="1.4"/><circle cx="405.50" cy="142.00" r="1.4"/><circle cx="406.91" cy="142.00" r="1.4"/><circle cx="408.33" cy="142.00" r="1.4"/><circle cx="409.74" cy="142.00" r="1.4"/><circle cx="411.16" cy="142.00" r="1.4"/><circle cx="412.57" cy="142.00" r="1.4"/><circle cx="413.99" cy="142.00" r="1.4"/><circle cx="415.40" cy="142.00" r="1.4"/><circle cx="416.82" cy="142.00" r="1.4"/><circle cx="418.23" cy="142.00" r="1.4"/></g>
<path d="M249.80,17.71L250.37,19.74L250.93,21.82L251.50,29.51L252.06,44.81L252.63,50.58L253.20,53.56L253.76,56.61L254.33,58.73L254.90,59.52L255.46,59.26L256.03,59.20L256.59,61.87L257.16,61.27L257.73,61.05L258.29,62.94L258.86,63.34L259.42,61.85L259.99,65.23L260.56,64.10L261.12,64.19L261.69,64.85L262.26,67.73L262.82,64.66L263.39,69.09L263.95,69.64L264.52,67.89L265.09,70.62L265.65,70.33L266.22,68.89L266.79,70.83L267.35,71.53L267.92,70.58L268.48,75.69L269.05,71.72L269.62,74.49L270.18,75.20L270.75,80.09L271.31,76.04L271.88,79.89L272.45,80.88L273.01,80.37L273.58,82.88L274.15,80.36L274.71,81.46L275.28,86.05L275.84,87.73L276.41,87.18L276.98,83.78L277.54,89.26L278.11,88.58L278.67,91.40L279.24,90.02L279.81,87.20L280.37,91.97L280.94,95.61L281.51,91.67L282.07,91.02L282.64,95.12L283.20,97.75L283.77,96.37L284.34,93.56L284.90,96.84L285.47,101.27L286.03,96.13L286.60,100.36L287.17,98.49L287.73,100.11L288.30,102.70L288.87,101.51L289.43,103.22L290.00,101.33L290.56,105.45L291.13,98.16L291.70,100.25L292.26,101.72L292.83,106.82L293.39,100.61L293.96,100.92L294.53,109.86L295.09,109.11L295.66,110.94L296.23,109.82L296.79,105.02L297.36,103.30L297.92,108.71L298.49,110.43L299.06,107.16L299.62,106.14L300.19,110.79L300.75,111.53L301.32,113.09L301.89,113.14L302.45,113.66L303.02,118.48L303.59,107.86L304.15,113.99L304.72,112.08L305.28,115.89L305.85,111.59L306.42,120.32L306.98,111.51L307.55,110.35L308.12,123.22L308.68,119.31L309.25,125.74L309.81,115.60L310.38,119.91L310.95,127.66L311.51,115.62L312.08,116.00L312.64,125.89L313.21,119.92L313.78,130.06L314.34,122.40L314.91,127.85L315.48,132.56L316.04,129.04L316.61,126.21L317.17,133.68L317.74,122.34L318.31,129.21L318.87,128.35L319.44,122.52L320.00,123.50L320.57,126.85L321.14,127.20L321.70,126.14L322.27,129.35L322.84,130.17L323.40,127.10L323.97,137.25L324.53,126.06L325.10,135.97L325.67,136.41L326.23,131.46L326.80,132.55L327.36,132.90L327.93,128.88L328.50,140.33L329.06,138.63L329.63,138.28L330.20,133.87L330.76,136.53L331.33,133.08L331.89,136.19L332.46,141.19L333.03,131.58L333.59,135.22L334.16,136.63L334.73,138.05L335.29,130.80L335.86,133.84L336.42,140.32L336.99,136.70L337.56,129.54L338.12,138.48L338.69,140.09L339.25,140.72L339.82,140.71L340.39,141.08L340.95,136.04L341.52,130.95L342.09,130.52L342.65,131.06L343.22,137.14L343.78,133.73L344.35,140.95L344.92,132.97L345.48,138.64L346.05,134.45L346.61,138.63L347.18,136.50L347.75,136.88L348.31,135.32L348.88,138.50L349.45,140.08L350.01,136.09L350.58,133.97L351.14,138.18L351.71,132.17L352.28,137.74L352.84,138.44L353.41,138.56L353.97,132.76L354.54,139.75L355.11,136.54L355.67,137.60L356.24,133.17L356.81,142.00L357.37,129.57L357.94,140.13L358.50,137.50L359.07,141.62L359.64,140.05L360.20,141.66L360.77,142.00L361.33,142.00L361.90,142.00L362.47,142.00L363.03,142.00L363.60,142.00L364.17,142.00L364.73,142.00L365.30,142.00L365.86,142.00L366.43,142.00L367.00,142.00L367.56,142.00L368.13,142.00L368.69,142.00L369.26,142.00L369.83,139.51L370.39,142.00L370.96,142.00L371.53,142.00L372.09,142.00L372.66,142.00L373.22,142.00L373.79,142.00L374.36,142.00L374.92,142.00L375.49,142.00L376.06,139.51L376.62,142.00L377.19,142.00L377.75,142.00L378.32,142.00L378.89,142.00L379.45,142.00L380.02,142.00L380.58,142.00L381.15,142.00L381.72,123.36L382.28,142.00L382.85,142.00L383.42,142.00L383.98,142.00L384.55,142.00L385.11,142.00L385.68,142.00L386.25,142.00L386.81,142.00L387.38,142.00L387.94,142.00L388.51,142.00L389.08,142.00L389.64,142.00L390.21,142.00L390.78,142.00L391.34,142.00L391.91,142.00L392.47,142.00L393.04,142.00L393.61,142.00L394.17,142.00L394.74,142.00L395.30,142.00L395.87,142.00L396.44,142.00L397.00,142.00L397.57,142.00L398.14,142.00L398.70,142.00L399.27,142.00L399.83,142.00L400.40,142.00L400.97,142.00L401.53,142.00L402.10,142.00L402.66,142.00L403.23,142.00L403.80,142.00L404.36,142.00L404.93,142.00L405.50,142.00L406.06,142.00L406.63,142.00L407.19,142.00L407.76,142.00L408.33,139.51L408.89,142.00L409.46,142.00L410.03,142.00L410.59,142.00L411.16,142.00L411.72,142.00L412.29,142.00L412.86,142.00L413.42,142.00L413.99,142.00L414.55,142.00L415.12,142.00L415.69,132.68L416.25,142.00L416.82,142.00L417.39,142.00L417.95,142.00L418.52,142.00L419.08,142.00L419.65,142.00" stroke="#ff0000" stroke-width="1.4" stroke-linejoin="round" fill="none"/>
<path d="M249.80,17.71L250.03,18.21L250.25,18.71L250.48,19.21L250.71,19.70L250.93,20.20L251.16,39.09L251.39,44.04L251.61,44.34L251.84,44.63L252.06,44.93L252.29,45.23L252.52,45.53L252.74,45.64L252.97,45.55L253.20,45.47L253.42,45.39L253.65,45.31L253.88,45.22L254.10,45.14L254.33,45.06L254.56,44.93L254.78,44.81L255.01,44.68L255.24,44.56L255.46,44.44L255.69,44.31L255.91,44.19L256.14,44.06L256.37,43.94L256.59,43.81L256.82,43.69L257.05,43.57L257.27,43.44L257.50,43.32L257.73,43.19L257.95,43.07L258.18,42.94L258.41,42.82L258.63,42.70L258.86,42.57L259.09,42.57L259.31,42.57L259.54,42.57L259.76,42.57L259.99,42.57L260.22,42.57L260.44,42.88L260.67,43.50L260.90,44.12L261.12,44.75L261.35,45.37L261.58,45.99L261.80,46.51L262.03,46.92L262.26,47.34L262.48,47.75L262.71,48.16L262.94,48.58L263.16,48.99L263.39,49.41L263.61,49.82L263.84,50.24L264.07,50.65L264.29,51.06L264.52,51.48L264.75,51.89L264.97,52.31L265.20,52.76L265.43,53.26L265.65,53.76L265.88,54.25L266.11,54.75L266.33,55.25L266.56,55.75L266.79,56.24L267.01,56.74L267.24,57.24L267.46,57.98L267.69,58.98L267.92,59.97L268.14,60.97L268.37,61.96L268.60,63.29L268.82,64.94L269.05,66.60L270.18,68.26L270.41,69.42L268.82,70.41L269.05,71.41L271.09,72.40L271.31,72.90L269.73,73.39L269.96,73.89L271.99,74.39L272.22,74.89L270.63,75.38L270.86,75.88L272.90,76.38L273.13,76.87L271.54,77.37L271.77,77.87L273.81,78.37L274.03,78.86L272.45,79.36L272.67,79.86L274.71,80.49L274.94,81.11L273.35,81.74L273.58,82.37L275.62,83.00L275.84,83.63L274.26,84.26L274.48,84.89L276.52,85.77L276.75,86.91L275.16,88.05L275.39,89.20L277.43,90.34L277.66,91.48L276.07,92.62L276.30,93.76L278.33,94.90L278.56,96.04L276.98,97.18L277.20,98.33L279.24,99.48L279.47,100.64L277.88,101.79L278.11,102.94L280.15,104.09L280.37,105.25L278.79,106.40L279.01,107.55L281.05,108.70L281.28,109.86L279.69,111.00L279.92,112.14L281.96,113.28L282.18,114.43L280.60,115.57L280.83,116.71L282.86,117.85L283.09,118.99L281.51,120.13L281.73,121.27L283.77,122.41L284.00,123.28L282.41,123.89L282.64,124.49L284.68,125.09L284.90,125.69L283.32,126.29L283.54,126.89L285.58,127.49L285.81,128.09L284.22,128.69L284.45,129.30L286.49,129.90L286.71,130.50L285.13,131.10L285.36,131.70L287.39,132.30L287.62,132.90L286.03,133.33L286.26,133.70L288.30,134.07L288.53,134.44L286.94,134.81L287.17,135.18L289.21,135.56L289.43,135.93L287.85,136.30L288.07,136.67L290.11,137.04L289.43,137.41L289.66,137.78L289.88,138.15L290.11,138.52L290.34,138.89L290.56,139.27L290.79,139.40L291.02,139.54L291.24,139.68L291.47,139.81L291.70,139.95L291.92,140.09L292.15,140.22L292.38,140.36L292.60,140.50L292.83,140.63L293.06,140.77L293.28,140.91L293.51,141.04L293.73,141.18L293.96,141.32L294.19,141.45L294.41,141.59L294.64,141.73L294.87,141.86L295.09,142.00L295.32,142.00L295.55,142.00L295.77,142.00L296.00,142.00L296.23,142.00L296.45,142.00L296.68,142.00L296.91,142.00L297.13,142.00L297.36,142.00L297.58,142.00L297.81,142.00L298.04,142.00L298.26,142.00L298.49,142.00L298.72,142.00L298.94,142.00L299.17,142.00L299.40,142.00L299.62,142.00L299.85,142.00L300.08,142.00L300.30,142.00L300.53,142.00L300.75,142.00L300.98,142.00L301.21,142.00L301.43,142.00L301.66,142.00L301.89,142.00L302.11,142.00L302.34,142.00L302.57,142.00L302.79,142.00L303.02,142.00L303.25,142.00L303.47,142.00L303.70,142.00L303.93,142.00L304.15,142.00L304.38,142.00L304.60,142.00L304.83,142.00L305.06,142.00L305.28,142.00L305.51,142.00L305.74,142.00L305.96,142.00L306.19,142.00L306.42,142.00L306.64,142.00L306.87,142.00L307.10,142.00L307.32,142.00L307.55,142.00L307.78,142.00L308.00,142.00L308.23,142.00L308.45,142.00L308.68,142.00L308.91,142.00L309.13,142.00L309.36,142.00L309.59,142.00L309.81,142.00L310.04,142.00L310.27,142.00L310.49,142.00L310.72,142.00L310.95,142.00L311.17,142.00L311.40,142.00L311.63,142.00L311.85,142.00L312.08,142.00L312.30,142.00L312.53,142.00L312.76,142.00L312.98,142.00L313.21,142.00L313.44,142.00L313.66,142.00L313.89,142.00L314.12,142.00L314.34,142.00L314.57,142.00L314.80,142.00L315.02,142.00L315.25,142.00L315.48,142.00L315.70,142.00L315.93,142.00L316.15,142.00L316.38,142.00L316.61,142.00L316.83,142.00L317.06,142.00L317.29,142.00L317.51,142.00L317.74,142.00L317.97,142.00L318.19,142.00L318.42,142.00L318.65,142.00L318.87,142.00L319.10,142.00L319.33,142.00L319.55,142.00L319.78,142.00L320.00,142.00L320.23,142.00L320.46,142.00L320.68,142.00L320.91,142.00L321.14,142.00L321.36,142.00L321.59,142.00L321.82,142.00L322.04,142.00L322.27,142.00L322.50,142.00L322.72,142.00L322.95,142.00L323.18,142.00L323.40,142.00L323.63,142.00L323.85,142.00L324.08,142.00L324.31,142.00L324.53,142.00L324.76,142.00L324.99,142.00L325.21,142.00L325.44,142.00L325.67,142.00L325.89,142.00L326.12,142.00L326.35,142.00L326.57,142.00L326.80,142.00L327.03,142.00L327.25,142.00L327.48,142.00L327.70,142.00L327.93,142.00L328.16,142.00L328.38,142.00L328.61,142.00L328.84,142.00L329.06,142.00L329.29,142.00L329.52,142.00L329.74,142.00L329.97,142.00L330.20,142.00L330.42,142.00L330.65,142.00L330.88,142.00L331.10,142.00L331.33,142.00L331.55,142.00L331.78,142.00L332.01,142.00L332.23,142.00L332.46,142.00L332.69,142.00L332.91,142.00L333.14,142.00L333.37,142.00L333.59,142.00L333.82,142.00L334.05,142.00L334.27,142.00L334.50,142.00L334.73,142.00L334.95,142.00L335.18,142.00L335.40,142.00L335.63,142.00L335.86,142.00L336.08,142.00L336.31,142.00L336.54,142.00L336.76,142.00L336.99,142.00L337.22,142.00L337.44,142.00L337.67,142.00L337.90,142.00L338.12,142.00L338.35,142.00L338.57,142.00L338.80,142.00L339.03,142.00L339.25,142.00L339.48,142.00L339.71,142.00L339.93,142.00L340.16,142.00L340.39,142.00L340.61,142.00L340.84,142.00L341.07,142.00L341.29,142.00L341.52,142.00L341.75,142.00L341.97,142.00L342.20,142.00L342.42,142.00L342.65,142.00L342.88,142.00L343.10,142.00L343.33,142.00L343.56,142.00L343.78,142.00L344.01,142.00L344.24,142.00L344.46,142.00L344.69,142.00L344.92,142.00L345.14,142.00L345.37,142.00L345.60,142.00L345.82,142.00L346.05,142.00L346.27,142.00L346.50,142.00L346.73,142.00L346.95,142.00L347.18,142.00L347.41,142.00L347.63,142.00L347.86,142.00L348.09,142.00L348.31,142.00L348.54,142.00L348.77,142.00L348.99,142.00L349.22,142.00L349.45,142.00L349.67,142.00L349.90,142.00L350.12,142.00L350.35,142.00L350.58,142.00L350.80,142.00L351.03,142.00L351.26,142.00L351.48,142.00L351.71,142.00L351.94,142.00L352.16,142.00L352.39,142.00L352.62,142.00L352.84,142.00L353.07,142.00L353.30,142.00L353.52,142.00L353.75,142.00L353.97,142.00L354.20,142.00L354.43,142.00L354.65,142.00L354.88,142.00L355.11,142.00L355.33,142.00L355.56,142.00L355.79,142.00L356.01,142.00L356.24,142.00L356.47,142.00L356.69,142.00L356.92,142.00L357.15,142.00L357.37,142.00L357.60,142.00L357.82,142.00L358.05,142.00L358.28,142.00L358.50,142.00L358.73,142.00L358.96,142.00L359.18,142.00L359.41,142.00L359.64,142.00L359.86,142.00L360.09,142.00L360.32,142.00L360.54,142.00L360.77,142.00L361.00,142.00L361.22,142.00L361.45,142.00L361.67,142.00L361.90,142.00L362.13,142.00L362.35,142.00L362.58,142.00L362.81,142.00L363.03,142.00L363.26,142.00L363.49,142.00L363.71,142.00L363.94,142.00L364.17,142.00L364.39,142.00L364.62,142.00L364.85,142.00L365.07,142.00L365.30,142.00L365.52,142.00L365.75,142.00L365.98,142.00L366.20,142.00L366.43,142.00L366.66,142.00L366.88,142.00L367.11,142.00L367.34,142.00L367.56,142.00L367.79,142.00L368.02,142.00L368.24,142.00L368.47,142.00L368.69,142.00L368.92,142.00L369.15,142.00L369.37,142.00L369.60,142.00L369.83,142.00L370.05,142.00L370.28,142.00L370.51,142.00L370.73,142.00L370.96,142.00L371.19,142.00L371.41,142.00L371.64,142.00L371.87,142.00L372.09,142.00L372.32,142.00L372.54,142.00L372.77,142.00L373.00,142.00L373.22,142.00L373.45,142.00L373.68,142.00L373.90,142.00L374.13,142.00L374.36,142.00L374.58,142.00L374.81,142.00L375.04,142.00L375.26,142.00L375.49,142.00L375.72,142.00L375.94,142.00L376.17,142.00L376.39,142.00L376.62,142.00L376.85,142.00L377.07,142.00L377.30,142.00L377.53,142.00L377.75,142.00L377.98,142.00L378.21,142.00L378.43,142.00L378.66,142.00L378.89,142.00L379.11,142.00L379.34,142.00L379.57,142.00L379.79,142.00L380.02,142.00L380.24,142.00L380.47,142.00L380.70,142.00L380.92,142.00L381.15,142.00L381.38,142.00L381.60,142.00L381.83,142.00L382.06,142.00L382.28,142.00L382.51,142.00L382.74,142.00L382.96,142.00L383.19,142.00L383.42,142.00L383.64,142.00L383.87,142.00L384.09,142.00L384.32,142.00L384.55,142.00L384.77,142.00L385.00,142.00L385.23,142.00L385.45,142.00L385.68,142.00L385.91,142.00L386.13,142.00L386.36,142.00L386.59,142.00L386.81,142.00L387.04,142.00L387.27,142.00L387.49,142.00L387.72,142.00L387.94,142.00L388.17,142.00L388.40,142.00L388.62,142.00L388.85,142.00L389.08,142.00L389.30,142.00L389.53,142.00L389.76,142.00L389.98,142.00L390.21,142.00L390.44,142.00L390.66,142.00L390.89,142.00L391.12,142.00L391.34,142.00L391.57,142.00L391.79,142.00L392.02,142.00L392.25,142.00L392.47,142.00L392.70,142.00L392.93,142.00L393.15,142.00L393.38,142.00L393.61,142.00L393.83,142.00L394.06,142.00L394.29,142.00L394.51,142.00L394.74,142.00L394.97,142.00L395.19,142.00L395.42,142.00L395.64,142.00L395.87,142.00L396.10,142.00L396.32,142.00L396.55,142.00L396.78,142.00L397.00,142.00L397.23,142.00L397.46,142.00L397.68,142.00L397.91,142.00L398.14,142.00L398.36,142.00L398.59,142.00L398.82,142.00L399.04,142.00L399.27,142.00L399.49,142.00L399.72,142.00L399.95,142.00L400.17,142.00L400.40,142.00L400.63,142.00L400.85,142.00L401.08,142.00L401.31,142.00L401.53,142.00L401.76,142.00L401.99,142.00L402.21,142.00L402.44,142.00L402.66,142.00L402.89,142.00L403.12,142.00L403.34,142.00L403.57,142.00L403.80,142.00L404.02,142.00L404.25,142.00L404.48,142.00L404.70,142.00L404.93,142.00L405.16,142.00L405.38,142.00L405.61,142.00L405.84,142.00L406.06,142.00L406.29,142.00L406.51,142.00L406.74,142.00L406.97,142.00L407.19,142.00L407.42,142.00L407.65,142.00L407.87,142.00L408.10,142.00L408.33,142.00L408.55,142.00L408.78,142.00L409.01,142.00L409.23,142.00L409.46,142.00L409.69,142.00L409.91,142.00L410.14,142.00L410.36,142.00L410.59,142.00L410.82,142.00L411.04,142.00L411.27,142.00L411.50,142.00L411.72,142.00L411.95,142.00L412.18,142.00L412.40,142.00L412.63,142.00L412.86,142.00L413.08,142.00L413.31,142.00L413.54,142.00L413.76,142.00L413.99,142.00L414.21,142.00L414.44,142.00L414.67,142.00L414.89,142.00L415.12,142.00L415.35,142.00L415.57,142.00L415.80,142.00L416.03,142.00L416.25,142.00L416.48,142.00L416.71,142.00L416.93,142.00L417.16,142.00L417.39,142.00L417.61,142.00L417.84,142.00L418.06,142.00L418.29,142.00L418.52,142.00L418.74,142.00L418.97,142.00L419.20,142.00L419.42,142.00L419.65,142.00L419.88,142.00L420.10,142.00" stroke="#ff0000" stroke-width="1.45" stroke-dasharray="1 0.95" fill="none"/>
</g>
<g font-size="8.20" fill="#262626" stroke="#262626" stroke-width="0.15"><text x="247.09" y="152.90" textLength="4.23" lengthAdjust="spacingAndGlyphs">0</text><text x="273.28" y="152.90" textLength="8.45" lengthAdjust="spacingAndGlyphs">50</text><text x="299.48" y="152.90" textLength="12.68" lengthAdjust="spacingAndGlyphs">100</text><text x="327.78" y="152.90" textLength="12.68" lengthAdjust="spacingAndGlyphs">150</text><text x="356.09" y="152.90" textLength="12.68" lengthAdjust="spacingAndGlyphs">200</text><text x="384.40" y="152.90" textLength="12.68" lengthAdjust="spacingAndGlyphs">250</text><text x="412.71" y="152.90" textLength="12.68" lengthAdjust="spacingAndGlyphs">300</text><text x="240.97" y="144.30" textLength="4.23" lengthAdjust="spacingAndGlyphs">0</text><text x="234.63" y="119.44" textLength="10.57" lengthAdjust="spacingAndGlyphs">0.2</text><text x="234.63" y="94.59" textLength="10.57" lengthAdjust="spacingAndGlyphs">0.4</text><text x="234.63" y="69.73" textLength="10.57" lengthAdjust="spacingAndGlyphs">0.6</text><text x="234.63" y="44.87" textLength="10.57" lengthAdjust="spacingAndGlyphs">0.8</text><text x="240.97" y="20.01" textLength="4.23" lengthAdjust="spacingAndGlyphs">1</text></g>
<text x="331.93" y="163.80" text-anchor="middle" font-size="8.45" fill="#262626" stroke="#262626" stroke-width="0.15">Degree k</text>
<text transform="translate(229.90,82.75) rotate(-90)" text-anchor="middle" font-size="8.4" fill="#262626" stroke="#262626" stroke-width="0.15">Probability of paradox</text>
<text x="325.80" y="7.50" text-anchor="middle" font-size="8.5" font-weight="bold" fill="#000">Youtube Communities</text>
<path d="M514.90,11.50V142.00M557.10,11.50V142.00M599.30,11.50V142.00M472.70,117.14H641.50M472.70,92.29H641.50M472.70,67.43H641.50M472.70,42.57H641.50M472.70,17.71H641.50" stroke="#e8e8e8" stroke-width="0.6" fill="none"/>
<rect x="472.70" y="11.50" width="168.80" height="130.50" stroke="#ababab" stroke-width="1" fill="none"/>
<path d="M472.70,142.00v-1.9M472.70,11.50v1.9M514.90,142.00v-1.9M514.90,11.50v1.9M557.10,142.00v-1.9M557.10,11.50v1.9M599.30,142.00v-1.9M599.30,11.50v1.9M641.50,142.00v-1.9M641.50,11.50v1.9M472.70,142.00h1.9M641.50,142.00h-1.9M472.70,117.14h1.9M641.50,117.14h-1.9M472.70,92.29h1.9M641.50,92.29h-1.9M472.70,67.43h1.9M641.50,67.43h-1.9M472.70,42.57h1.9M641.50,42.57h-1.9M472.70,17.71h1.9M641.50,17.71h-1.9" stroke="#808080" stroke-width="0.9" fill="none"/>
<clipPath id="c2"><rect x="470.70" y="9.50" width="172.80" height="134.50"/></clipPath>
<g clip-path="url(#c2)">
<g fill="#0000ff"><circle cx="472.70" cy="17.71" r="1.4"/><circle cx="473.07" cy="19.62" r="1.4"/><circle cx="473.43" cy="21.05" r="1.4"/><circle cx="473.80" cy="22.84" r="1.4"/><circle cx="474.16" cy="24.87" r="1.4"/><circle cx="474.53" cy="26.46" r="1.4"/><circle cx="474.89" cy="28.58" r="1.4"/><circle cx="475.32" cy="29.15" r="1.4"/><circle cx="475.74" cy="32.96" r="1.4"/><circle cx="476.16" cy="33.11" r="1.4"/><circle cx="476.58" cy="35.33" r="1.4"/><circle cx="477.00" cy="36.94" r="1.4"/><circle cx="477.43" cy="36.70" r="1.4"/><circle cx="477.85" cy="38.64" r="1.4"/><circle cx="478.27" cy="41.72" r="1.4"/><circle cx="478.69" cy="42.47" r="1.4"/><circle cx="479.11" cy="43.59" r="1.4"/><circle cx="479.54" cy="45.47" r="1.4"/><circle cx="479.96" cy="47.48" r="1.4"/><circle cx="480.38" cy="49.81" r="1.4"/><circle cx="480.80" cy="49.30" r="1.4"/><circle cx="481.22" cy="50.67" r="1.4"/><circle cx="481.65" cy="53.14" r="1.4"/><circle cx="482.07" cy="55.50" r="1.4"/><circle cx="482.49" cy="56.93" r="1.4"/><circle cx="482.91" cy="55.81" r="1.4"/><circle cx="483.33" cy="56.61" r="1.4"/><circle cx="483.76" cy="56.95" r="1.4"/><circle cx="484.18" cy="59.31" r="1.4"/><circle cx="484.60" cy="59.48" r="1.4"/><circle cx="485.02" cy="60.09" r="1.4"/><circle cx="485.44" cy="60.70" r="1.4"/><circle cx="485.87" cy="60.27" r="1.4"/><circle cx="486.29" cy="61.61" r="1.4"/><circle cx="486.71" cy="60.46" r="1.4"/><circle cx="487.13" cy="59.30" r="1.4"/><circle cx="487.55" cy="58.86" r="1.4"/><circle cx="487.98" cy="61.41" r="1.4"/><circle cx="488.40" cy="61.80" r="1.4"/><circle cx="488.82" cy="61.97" r="1.4"/><circle cx="489.24" cy="62.81" r="1.4"/><circle cx="489.66" cy="63.44" r="1.4"/><circle cx="490.09" cy="61.95" r="1.4"/><circle cx="490.51" cy="63.40" r="1.4"/><circle cx="490.93" cy="64.72" r="1.4"/><circle cx="491.35" cy="67.28" r="1.4"/><circle cx="491.77" cy="70.63" r="1.4"/><circle cx="492.20" cy="71.32" r="1.4"/><circle cx="492.62" cy="73.86" r="1.4"/><circle cx="493.04" cy="79.91" r="1.4"/><circle cx="493.59" cy="82.34" r="1.4"/><circle cx="493.93" cy="87.11" r="1.4"/><circle cx="494.26" cy="91.25" r="1.4"/><circle cx="494.60" cy="95.39" r="1.4"/><circle cx="494.94" cy="98.91" r="1.4"/><circle cx="495.28" cy="100.57" r="1.4"/><circle cx="495.61" cy="102.23" r="1.4"/><circle cx="495.91" cy="100.02" r="1.4"/><circle cx="496.46" cy="103.38" r="1.4"/><circle cx="497.01" cy="102.88" r="1.4"/><circle cx="497.56" cy="106.19" r="1.4"/><circle cx="498.10" cy="108.68" r="1.4"/><circle cx="498.65" cy="107.73" r="1.4"/><circle cx="499.20" cy="109.13" r="1.4"/><circle cx="499.75" cy="103.29" r="1.4"/><circle cx="500.30" cy="103.76" r="1.4"/><circle cx="500.85" cy="107.19" r="1.4"/><circle cx="501.40" cy="104.90" r="1.4"/><circle cx="501.94" cy="109.47" r="1.4"/><circle cx="502.49" cy="105.66" r="1.4"/><circle cx="503.04" cy="110.42" r="1.4"/><circle cx="503.59" cy="108.57" r="1.4"/><circle cx="504.14" cy="110.62" r="1.4"/><circle cx="504.69" cy="111.20" r="1.4"/><circle cx="505.24" cy="109.22" r="1.4"/><circle cx="505.78" cy="112.15" r="1.4"/><circle cx="506.33" cy="109.34" r="1.4"/><circle cx="506.88" cy="107.53" r="1.4"/><circle cx="507.43" cy="108.61" r="1.4"/><circle cx="507.98" cy="114.69" r="1.4"/><circle cx="508.53" cy="115.91" r="1.4"/><circle cx="509.08" cy="112.57" r="1.4"/><circle cx="509.62" cy="110.22" r="1.4"/><circle cx="510.17" cy="111.90" r="1.4"/><circle cx="510.72" cy="111.14" r="1.4"/><circle cx="511.27" cy="113.07" r="1.4"/><circle cx="511.82" cy="115.42" r="1.4"/><circle cx="512.37" cy="116.17" r="1.4"/><circle cx="512.92" cy="113.78" r="1.4"/><circle cx="513.47" cy="113.66" r="1.4"/><circle cx="514.01" cy="113.60" r="1.4"/><circle cx="514.56" cy="118.62" r="1.4"/><circle cx="515.11" cy="118.11" r="1.4"/><circle cx="515.66" cy="120.56" r="1.4"/><circle cx="516.21" cy="119.52" r="1.4"/><circle cx="516.76" cy="118.23" r="1.4"/><circle cx="517.31" cy="115.78" r="1.4"/><circle cx="517.85" cy="115.12" r="1.4"/><circle cx="518.40" cy="116.43" r="1.4"/><circle cx="518.95" cy="118.02" r="1.4"/><circle cx="519.50" cy="118.86" r="1.4"/><circle cx="520.05" cy="122.07" r="1.4"/><circle cx="520.60" cy="118.21" r="1.4"/><circle cx="521.15" cy="121.51" r="1.4"/><circle cx="521.69" cy="119.11" r="1.4"/><circle cx="522.24" cy="120.18" r="1.4"/><circle cx="522.79" cy="120.79" r="1.4"/><circle cx="523.34" cy="119.30" r="1.4"/><circle cx="523.89" cy="123.80" r="1.4"/><circle cx="524.44" cy="121.45" r="1.4"/><circle cx="524.99" cy="124.46" r="1.4"/><circle cx="525.53" cy="122.43" r="1.4"/><circle cx="526.08" cy="121.87" r="1.4"/><circle cx="526.63" cy="119.80" r="1.4"/><circle cx="527.18" cy="124.20" r="1.4"/><circle cx="527.73" cy="121.42" r="1.4"/><circle cx="528.28" cy="120.16" r="1.4"/><circle cx="528.83" cy="125.18" r="1.4"/><circle cx="529.37" cy="126.37" r="1.4"/><circle cx="529.92" cy="122.02" r="1.4"/><circle cx="530.47" cy="126.18" r="1.4"/><circle cx="531.02" cy="126.52" r="1.4"/><circle cx="531.57" cy="125.64" r="1.4"/><circle cx="532.12" cy="123.29" r="1.4"/><circle cx="532.67" cy="124.41" r="1.4"/><circle cx="533.21" cy="126.34" r="1.4"/><circle cx="533.76" cy="128.26" r="1.4"/><circle cx="534.31" cy="123.22" r="1.4"/><circle cx="534.86" cy="126.63" r="1.4"/><circle cx="535.41" cy="127.51" r="1.4"/><circle cx="535.96" cy="124.99" r="1.4"/><circle cx="536.51" cy="125.98" r="1.4"/><circle cx="537.05" cy="128.80" r="1.4"/><circle cx="537.60" cy="127.98" r="1.4"/><circle cx="538.15" cy="122.82" r="1.4"/><circle cx="538.70" cy="123.88" r="1.4"/><circle cx="539.25" cy="128.89" r="1.4"/><circle cx="539.80" cy="128.02" r="1.4"/><circle cx="540.35" cy="128.09" r="1.4"/><circle cx="540.90" cy="126.45" r="1.4"/><circle cx="541.44" cy="123.85" r="1.4"/><circle cx="541.99" cy="126.51" r="1.4"/><circle cx="542.54" cy="130.06" r="1.4"/><circle cx="543.09" cy="123.73" r="1.4"/><circle cx="543.64" cy="129.90" r="1.4"/><circle cx="544.19" cy="127.60" r="1.4"/><circle cx="544.74" cy="125.98" r="1.4"/><circle cx="545.28" cy="126.46" r="1.4"/><circle cx="545.83" cy="129.01" r="1.4"/><circle cx="546.38" cy="127.22" r="1.4"/><circle cx="546.93" cy="127.09" r="1.4"/><circle cx="547.48" cy="131.17" r="1.4"/><circle cx="548.03" cy="125.26" r="1.4"/><circle cx="548.58" cy="128.94" r="1.4"/><circle cx="549.12" cy="128.76" r="1.4"/><circle cx="549.67" cy="128.63" r="1.4"/><circle cx="550.22" cy="126.11" r="1.4"/><circle cx="550.77" cy="129.47" r="1.4"/><circle cx="551.32" cy="125.41" r="1.4"/><circle cx="551.87" cy="128.74" r="1.4"/><circle cx="552.42" cy="127.21" r="1.4"/><circle cx="552.96" cy="127.10" r="1.4"/><circle cx="553.51" cy="132.24" r="1.4"/><circle cx="554.06" cy="128.88" r="1.4"/><circle cx="554.61" cy="132.04" r="1.4"/><circle cx="555.16" cy="130.82" r="1.4"/><circle cx="555.71" cy="129.71" r="1.4"/><circle cx="556.26" cy="131.27" r="1.4"/><circle cx="556.80" cy="126.23" r="1.4"/><circle cx="557.35" cy="131.42" r="1.4"/><circle cx="557.90" cy="131.40" r="1.4"/><circle cx="558.45" cy="129.80" r="1.4"/><circle cx="559.00" cy="132.30" r="1.4"/><circle cx="559.55" cy="127.08" r="1.4"/><circle cx="560.10" cy="127.06" r="1.4"/><circle cx="560.64" cy="129.99" r="1.4"/><circle cx="561.19" cy="128.35" r="1.4"/><circle cx="561.74" cy="131.73" r="1.4"/><circle cx="562.29" cy="131.72" r="1.4"/><circle cx="562.84" cy="132.31" r="1.4"/><circle cx="563.39" cy="128.41" r="1.4"/><circle cx="563.94" cy="129.26" r="1.4"/><circle cx="564.48" cy="135.12" r="1.4"/><circle cx="565.03" cy="134.11" r="1.4"/><circle cx="565.58" cy="131.97" r="1.4"/><circle cx="566.13" cy="131.62" r="1.4"/><circle cx="566.68" cy="132.28" r="1.4"/><circle cx="567.23" cy="133.18" r="1.4"/><circle cx="567.78" cy="135.46" r="1.4"/><circle cx="568.33" cy="134.64" r="1.4"/><circle cx="568.87" cy="129.25" r="1.4"/><circle cx="569.42" cy="131.41" r="1.4"/><circle cx="569.97" cy="133.62" r="1.4"/><circle cx="570.52" cy="134.33" r="1.4"/><circle cx="571.07" cy="136.11" r="1.4"/><circle cx="571.62" cy="135.53" r="1.4"/><circle cx="572.17" cy="130.34" r="1.4"/><circle cx="572.71" cy="133.89" r="1.4"/><circle cx="573.26" cy="132.60" r="1.4"/><circle cx="573.81" cy="135.50" r="1.4"/><circle cx="574.36" cy="131.25" r="1.4"/><circle cx="574.91" cy="136.10" r="1.4"/><circle cx="575.46" cy="135.31" r="1.4"/><circle cx="576.01" cy="137.19" r="1.4"/><circle cx="576.55" cy="137.14" r="1.4"/><circle cx="577.10" cy="135.99" r="1.4"/><circle cx="577.65" cy="133.16" r="1.4"/><circle cx="578.20" cy="131.73" r="1.4"/><circle cx="578.75" cy="136.34" r="1.4"/><circle cx="579.30" cy="136.14" r="1.4"/><circle cx="579.85" cy="136.60" r="1.4"/><circle cx="497.18" cy="106.21" r="1.4"/><circle cx="514.06" cy="106.21" r="1.4"/><circle cx="585.80" cy="135.04" r="1.4"/><circle cx="598.46" cy="135.04" r="1.4"/><circle cx="603.52" cy="133.30" r="1.4"/><circle cx="606.05" cy="130.32" r="1.4"/><circle cx="607.74" cy="133.30" r="1.4"/><circle cx="609.85" cy="135.79" r="1.4"/><circle cx="614.07" cy="135.16" r="1.4"/><circle cx="620.40" cy="135.79" r="1.4"/><circle cx="625.46" cy="134.05" r="1.4"/><circle cx="638.12" cy="136.41" r="1.4"/><circle cx="573.98" cy="135.79" r="1.4"/><circle cx="578.20" cy="134.54" r="1.4"/><circle cx="584.53" cy="137.03" r="1.4"/><circle cx="590.86" cy="138.27" r="1.4"/><circle cx="595.08" cy="139.51" r="1.4"/><circle cx="599.30" cy="137.03" r="1.4"/><circle cx="578.20" cy="142.00" r="1.4"/><circle cx="579.25" cy="142.00" r="1.4"/><circle cx="580.31" cy="142.00" r="1.4"/><circle cx="581.37" cy="142.00" r="1.4"/><circle cx="582.42" cy="142.00" r="1.4"/><circle cx="583.48" cy="142.00" r="1.4"/><circle cx="584.53" cy="142.00" r="1.4"/><circle cx="585.59" cy="142.00" r="1.4"/><circle cx="586.64" cy="142.00" r="1.4"/><circle cx="587.69" cy="142.00" r="1.4"/><circle cx="588.75" cy="142.00" r="1.4"/><circle cx="589.80" cy="142.00" r="1.4"/><circle cx="590.86" cy="142.00" r="1.4"/><circle cx="591.91" cy="142.00" r="1.4"/><circle cx="592.97" cy="142.00" r="1.4"/><circle cx="594.02" cy="142.00" r="1.4"/><circle cx="595.08" cy="142.00" r="1.4"/><circle cx="596.13" cy="142.00" r="1.4"/><circle cx="597.19" cy="142.00" r="1.4"/><circle cx="598.25" cy="142.00" r="1.4"/><circle cx="599.30" cy="142.00" r="1.4"/><circle cx="600.36" cy="142.00" r="1.4"/><circle cx="601.41" cy="142.00" r="1.4"/><circle cx="602.47" cy="142.00" r="1.4"/><circle cx="603.52" cy="142.00" r="1.4"/><circle cx="604.58" cy="142.00" r="1.4"/><circle cx="605.63" cy="142.00" r="1.4"/><circle cx="606.68" cy="142.00" r="1.4"/><circle cx="607.74" cy="142.00" r="1.4"/><circle cx="608.79" cy="142.00" r="1.4"/><circle cx="609.85" cy="142.00" r="1.4"/><circle cx="610.90" cy="142.00" r="1.4"/><circle cx="611.96" cy="142.00" r="1.4"/><circle cx="613.01" cy="142.00" r="1.4"/><circle cx="614.07" cy="142.00" r="1.4"/><circle cx="615.12" cy="142.00" r="1.4"/><circle cx="616.18" cy="142.00" r="1.4"/><circle cx="617.24" cy="142.00" r="1.4"/><circle cx="618.29" cy="142.00" r="1.4"/><circle cx="619.35" cy="142.00" r="1.4"/><circle cx="620.40" cy="142.00" r="1.4"/><circle cx="621.45" cy="142.00" r="1.4"/><circle cx="622.51" cy="142.00" r="1.4"/><circle cx="623.57" cy="142.00" r="1.4"/><circle cx="624.62" cy="142.00" r="1.4"/><circle cx="625.67" cy="142.00" r="1.4"/><circle cx="626.73" cy="142.00" r="1.4"/><circle cx="627.78" cy="142.00" r="1.4"/><circle cx="628.84" cy="142.00" r="1.4"/><circle cx="629.89" cy="142.00" r="1.4"/><circle cx="630.95" cy="142.00" r="1.4"/><circle cx="632.00" cy="142.00" r="1.4"/><circle cx="633.06" cy="142.00" r="1.4"/><circle cx="634.12" cy="142.00" r="1.4"/><circle cx="635.17" cy="142.00" r="1.4"/><circle cx="636.23" cy="142.00" r="1.4"/><circle cx="637.28" cy="142.00" r="1.4"/><circle cx="638.34" cy="142.00" r="1.4"/><circle cx="639.39" cy="142.00" r="1.4"/><circle cx="640.44" cy="142.00" r="1.4"/></g>
<path d="M472.70,17.71L473.12,19.10L473.54,20.49L473.97,21.88L474.39,23.27L474.81,24.66L475.23,26.05L475.65,27.44L476.08,28.89L476.50,30.41L476.92,31.93L477.34,33.45L477.76,34.97L478.19,36.49L478.61,38.01L479.03,39.53L479.45,41.05L479.87,42.57L480.30,43.99L480.72,45.41L481.14,46.83L481.56,48.25L481.98,49.67L482.41,51.09L482.83,52.51L483.25,53.34L483.67,54.17L484.09,55.00L484.52,55.83L484.94,56.66L485.36,57.49L485.78,58.31L486.20,58.52L486.63,58.11L487.05,57.69L487.47,57.28L487.89,56.86L488.31,57.40L488.74,57.93L489.16,58.46L489.58,58.99L490.00,59.53L490.42,60.06L490.85,60.59L491.27,62.46L491.69,64.32L492.11,66.19L492.53,68.05L492.96,69.91L493.38,76.13L493.80,82.34L494.22,87.96L494.64,93.12L495.07,98.62L495.49,101.52L495.91,103.76L496.33,102.57L496.75,105.19L497.18,105.55L497.60,105.79L498.02,107.24L498.44,107.46L498.86,109.37L499.29,110.10L499.71,110.70L500.13,108.66L500.55,108.44L500.97,112.28L501.40,113.73L501.82,109.76L502.24,114.06L502.66,111.74L503.08,115.21L503.51,113.26L503.93,115.49L504.35,117.78L504.77,118.36L505.19,116.74L505.62,115.91L506.04,116.39L506.46,116.70L506.88,116.54L507.30,119.72L507.73,116.00L508.15,115.34L508.57,118.27L508.99,118.39L509.41,121.54L509.84,122.67L510.26,121.21L510.68,119.93L511.10,123.08L511.52,121.23L511.95,120.52L512.37,120.22L512.79,118.70L513.21,120.89L513.63,124.48L514.06,123.50L514.48,122.52L514.90,121.72L515.32,123.19L515.74,123.72L516.17,118.84L516.59,121.51L517.01,119.21L517.43,126.92L517.85,122.26L518.28,124.42L518.70,126.22L519.12,129.11L519.54,121.16L519.96,130.05L520.39,122.21L520.81,126.84L521.23,122.30L521.65,130.46L522.07,130.52L522.50,127.24L522.92,125.33L523.34,125.14L523.76,128.84L524.18,125.62L524.61,128.06L525.03,130.48L525.45,131.08L525.87,130.10L526.29,124.06L526.72,130.13L527.14,127.67L527.56,131.82L527.98,123.90L528.40,124.93L528.83,132.04L529.25,131.74L529.67,125.61L530.09,131.35L530.51,133.36L530.94,128.82L531.36,133.25L531.78,134.13L532.20,129.00L532.62,126.00L533.05,133.54L533.47,127.45L533.89,129.74L534.31,127.73L534.73,132.89L535.16,132.82L535.58,130.84L536.00,134.17L536.42,133.50L536.84,135.26L537.27,128.67L537.69,132.21L538.11,135.35L538.53,128.35L538.95,134.84L539.38,136.53L539.80,132.50L540.22,131.12L540.64,132.19L541.06,131.17L541.49,133.52L541.91,129.85L542.33,131.94L542.75,135.78L543.17,129.61L543.60,137.08L544.02,134.59L544.44,132.42L544.86,129.26L545.28,134.94L545.71,136.41L546.13,132.35L546.55,131.04L546.97,135.73L547.39,133.98L547.82,132.21L548.24,133.68L548.66,130.92L549.08,137.22L549.50,131.52L549.93,138.39L550.35,136.24L550.77,131.57L551.19,134.64L551.61,131.22L552.04,134.02L552.46,132.60L552.88,137.63L553.30,135.44L553.72,135.60L554.15,137.27L554.57,135.86L554.99,134.23L555.41,131.88L555.83,135.37L556.26,139.26L556.68,136.84L557.10,137.56L557.52,138.03L557.94,136.50L558.37,137.63L558.79,133.67L559.21,136.66L559.63,133.03L560.05,137.95L560.48,132.32L560.90,139.53L561.32,135.44L561.74,139.63L562.16,138.85L562.59,134.17L563.01,136.29L563.43,137.81L563.85,140.35L564.27,133.91L564.70,135.71L565.12,140.64L565.54,138.14L565.96,137.09L566.38,140.75L566.81,140.44L567.23,136.18L567.65,134.36L568.07,138.63L568.49,140.96L568.92,137.69L569.34,135.53L569.76,135.61L570.18,135.47L570.60,135.70L571.03,136.18L571.45,140.90L571.87,136.58L572.29,134.63L572.71,137.96L573.14,139.63L573.56,135.39L573.98,136.20L574.40,137.73L574.82,141.53L575.25,138.74L575.67,138.90L576.09,136.65L576.51,135.22L576.93,138.38L577.36,138.76L577.78,137.85L578.20,137.94L578.62,137.44L579.04,140.41L579.47,139.10L579.89,136.58L580.31,138.25L580.73,139.32L581.15,140.95L581.58,140.79L582.00,141.53L582.42,136.37L582.84,138.56L583.26,137.63L583.69,137.83L584.11,138.43L584.53,141.45L584.95,139.48L585.37,140.32L585.80,142.00L586.22,139.21L586.64,136.78L587.06,136.63L587.48,141.59L587.91,137.77L588.33,142.00L588.75,141.55L589.17,141.57L589.59,140.81L590.02,142.00L590.44,141.30L590.86,142.00L591.28,138.62L591.70,137.78L592.13,139.64L592.55,142.00L592.97,141.36L593.39,142.00L593.81,137.39L594.24,140.07L594.66,141.81L595.08,139.76L595.50,141.44L595.92,139.56L596.35,140.42L596.77,139.67L597.19,138.72L597.61,140.37L598.03,142.00L598.46,140.64L598.88,140.12L599.30,141.96L599.72,138.81L600.14,139.64L600.57,142.00L600.99,139.23L601.41,139.35L601.83,140.16L602.25,140.52L602.68,140.62L603.10,142.00L603.52,142.00L603.94,139.24L604.36,141.06L604.79,140.35L605.21,140.05L605.63,138.98L606.05,139.93L606.47,140.94L606.90,140.61L607.32,141.91L607.74,139.15L608.16,140.31L608.58,142.00L609.01,139.72L609.43,138.72L609.85,139.03L610.27,140.10L610.69,140.30L611.12,138.84L611.54,139.65L611.96,141.45L612.38,139.42L612.80,139.16L613.23,141.15L613.65,141.42L614.07,140.80L614.49,142.00L614.91,139.72L615.34,142.00L615.76,140.08L616.18,141.55L616.60,141.89L617.02,140.65L617.45,140.89L617.87,141.91L618.29,142.00L618.71,142.00L619.13,142.00L619.56,142.00L619.98,142.00L620.40,142.00L620.82,142.00L621.24,142.00L621.67,142.00L622.09,142.00L622.51,142.00L622.93,142.00L623.35,142.00L623.78,142.00L624.20,142.00L624.62,142.00L625.04,142.00L625.46,142.00L625.89,142.00L626.31,142.00L626.73,142.00L627.15,142.00L627.57,142.00L628.00,142.00L628.42,142.00L628.84,142.00L629.26,142.00L629.68,142.00L630.11,142.00L630.53,142.00L630.95,142.00L631.37,142.00L631.79,142.00L632.22,142.00L632.64,142.00L633.06,142.00L633.48,142.00L633.90,142.00L634.33,142.00L634.75,142.00L635.17,142.00L635.59,142.00L636.01,142.00L636.44,142.00L636.86,142.00L637.28,142.00L637.70,142.00L638.12,142.00L638.55,142.00L638.97,142.00L639.39,142.00L639.81,142.00L640.23,142.00L640.66,142.00L641.08,142.00L641.50,142.00" stroke="#ff0000" stroke-width="1.4" stroke-linejoin="round" fill="none"/>
<path d="M472.70,17.71L472.91,17.71L473.12,17.71L473.33,17.71L473.54,17.71L473.75,17.71L473.97,17.71L474.18,17.71L474.39,17.71L474.60,17.71L474.81,17.71L475.02,17.71L475.23,17.71L475.44,17.71L475.65,17.71L475.87,17.81L476.08,17.90L476.29,17.99L476.50,18.09L476.71,18.18L476.92,18.27L477.13,18.37L477.34,18.46L477.55,18.55L477.76,18.65L477.97,18.74L478.19,18.83L478.40,18.93L478.61,19.02L478.82,19.11L479.03,19.21L479.24,19.30L479.45,19.39L479.66,19.49L479.87,19.58L480.08,19.82L480.30,20.06L480.51,20.30L480.72,20.55L480.93,20.79L481.14,21.03L481.35,21.27L481.56,21.51L481.77,21.75L481.98,22.00L482.19,22.24L482.41,22.48L482.62,22.72L482.83,22.96L483.04,23.20L483.25,23.45L483.46,23.69L483.67,23.93L483.88,24.18L484.09,24.43L484.31,24.67L484.52,24.92L484.73,25.17L484.94,25.42L485.15,25.67L485.36,25.92L485.57,26.17L485.78,25.72L485.99,25.27L486.20,24.82L486.41,24.38L486.63,23.93L486.84,23.42L487.05,22.92L487.26,22.42L487.47,21.91L487.68,21.41L487.89,20.91L488.10,20.40L488.31,20.35L488.52,20.61L488.74,20.86L488.95,21.12L489.16,21.37L489.37,21.63L489.58,21.88L489.79,22.14L490.00,22.39L490.21,22.64L490.42,22.90L490.63,23.15L490.85,23.49L491.06,23.94L491.27,24.40L491.48,24.85L491.69,25.31L491.90,25.76L492.11,26.22L492.32,26.67L492.53,27.39L492.75,29.13L492.96,30.88L493.17,32.63L493.38,41.33L493.59,50.03L493.80,63.59L494.01,77.15L494.22,93.67L494.43,110.93L494.64,121.49L494.86,132.06L495.07,134.13L495.28,136.20L495.49,138.27L495.70,138.79L495.91,139.31L496.12,139.82L496.33,140.34L496.54,140.86L496.75,141.38L496.96,141.48L497.18,141.59L497.39,141.69L497.60,141.79L497.81,141.90L498.02,142.00L498.23,142.00L498.44,142.00L498.65,142.00L498.86,142.00L499.07,142.00L499.29,142.00L499.50,142.00L499.71,142.00L499.92,142.00L500.13,142.00L500.34,142.00L500.55,142.00L500.76,142.00L500.97,142.00L501.19,142.00L501.40,142.00L501.61,142.00L501.82,142.00L502.03,142.00L502.24,142.00L502.45,142.00L502.66,142.00L502.87,142.00L503.08,142.00L503.30,142.00L503.51,142.00L503.72,142.00L503.93,142.00L504.14,142.00L504.35,142.00L504.56,142.00L504.77,142.00L504.98,142.00L505.19,142.00L505.40,142.00L505.62,142.00L505.83,142.00L506.04,142.00L506.25,142.00L506.46,142.00L506.67,142.00L506.88,142.00L507.09,142.00L507.30,142.00L507.51,142.00L507.73,142.00L507.94,142.00L508.15,142.00L508.36,142.00L508.57,142.00L508.78,142.00L508.99,142.00L509.20,142.00L509.41,142.00L509.62,142.00L509.84,142.00L510.05,142.00L510.26,142.00L510.47,142.00L510.68,142.00L510.89,142.00L511.10,142.00L511.31,142.00L511.52,142.00L511.74,142.00L511.95,142.00L512.16,142.00L512.37,142.00L512.58,142.00L512.79,142.00L513.00,142.00L513.21,142.00L513.42,142.00L513.63,142.00L513.85,142.00L514.06,142.00L514.27,142.00L514.48,142.00L514.69,142.00L514.90,142.00L515.11,142.00L515.32,142.00L515.53,142.00L515.74,142.00L515.96,142.00L516.17,142.00L516.38,142.00L516.59,142.00L516.80,142.00L517.01,142.00L517.22,142.00L517.43,142.00L517.64,142.00L517.85,142.00L518.06,142.00L518.28,142.00L518.49,142.00L518.70,142.00L518.91,142.00L519.12,142.00L519.33,142.00L519.54,142.00L519.75,142.00L519.96,142.00L520.17,142.00L520.39,142.00L520.60,142.00L520.81,142.00L521.02,142.00L521.23,142.00L521.44,142.00L521.65,142.00L521.86,142.00L522.07,142.00L522.28,142.00L522.50,142.00L522.71,142.00L522.92,142.00L523.13,142.00L523.34,142.00L523.55,142.00L523.76,142.00L523.97,142.00L524.18,142.00L524.39,142.00L524.61,142.00L524.82,142.00L525.03,142.00L525.24,142.00L525.45,142.00L525.66,142.00L525.87,142.00L526.08,142.00L526.29,142.00L526.50,142.00L526.72,142.00L526.93,142.00L527.14,142.00L527.35,142.00L527.56,142.00L527.77,142.00L527.98,142.00L528.19,142.00L528.40,142.00L528.62,142.00L528.83,142.00L529.04,142.00L529.25,142.00L529.46,142.00L529.67,142.00L529.88,142.00L530.09,142.00L530.30,142.00L530.51,142.00L530.73,142.00L530.94,142.00L531.15,142.00L531.36,142.00L531.57,142.00L531.78,142.00L531.99,142.00L532.20,142.00L532.41,142.00L532.62,142.00L532.84,142.00L533.05,142.00L533.26,142.00L533.47,142.00L533.68,142.00L533.89,142.00L534.10,142.00L534.31,142.00L534.52,142.00L534.73,142.00L534.94,142.00L535.16,142.00L535.37,142.00L535.58,142.00L535.79,142.00L536.00,142.00L536.21,142.00L536.42,142.00L536.63,142.00L536.84,142.00L537.05,142.00L537.27,142.00L537.48,142.00L537.69,142.00L537.90,142.00L538.11,142.00L538.32,142.00L538.53,142.00L538.74,142.00L538.95,142.00L539.16,142.00L539.38,142.00L539.59,142.00L539.80,142.00L540.01,142.00L540.22,142.00L540.43,142.00L540.64,142.00L540.85,142.00L541.06,142.00L541.27,142.00L541.49,142.00L541.70,142.00L541.91,142.00L542.12,142.00L542.33,142.00L542.54,142.00L542.75,142.00L542.96,142.00L543.17,142.00L543.38,142.00L543.60,142.00L543.81,142.00L544.02,142.00L544.23,142.00L544.44,142.00L544.65,142.00L544.86,142.00L545.07,142.00L545.28,142.00L545.50,142.00L545.71,142.00L545.92,142.00L546.13,142.00L546.34,142.00L546.55,142.00L546.76,142.00L546.97,142.00L547.18,142.00L547.39,142.00L547.61,142.00L547.82,142.00L548.03,142.00L548.24,142.00L548.45,142.00L548.66,142.00L548.87,142.00L549.08,142.00L549.29,142.00L549.50,142.00L549.72,142.00L549.93,142.00L550.14,142.00L550.35,142.00L550.56,142.00L550.77,142.00L550.98,142.00L551.19,142.00L551.40,142.00L551.61,142.00L551.83,142.00L552.04,142.00L552.25,142.00L552.46,142.00L552.67,142.00L552.88,142.00L553.09,142.00L553.30,142.00L553.51,142.00L553.72,142.00L553.93,142.00L554.15,142.00L554.36,142.00L554.57,142.00L554.78,142.00L554.99,142.00L555.20,142.00L555.41,142.00L555.62,142.00L555.83,142.00L556.04,142.00L556.26,142.00L556.47,142.00L556.68,142.00L556.89,142.00L557.10,142.00L557.31,142.00L557.52,142.00L557.73,142.00L557.94,142.00L558.15,142.00L558.37,142.00L558.58,142.00L558.79,142.00L559.00,142.00L559.21,142.00L559.42,142.00L559.63,142.00L559.84,142.00L560.05,142.00L560.26,142.00L560.48,142.00L560.69,142.00L560.90,142.00L561.11,142.00L561.32,142.00L561.53,142.00L561.74,142.00L561.95,142.00L562.16,142.00L562.38,142.00L562.59,142.00L562.80,142.00L563.01,142.00L563.22,142.00L563.43,142.00L563.64,142.00L563.85,142.00L564.06,142.00L564.27,142.00L564.49,142.00L564.70,142.00L564.91,142.00L565.12,142.00L565.33,142.00L565.54,142.00L565.75,142.00L565.96,142.00L566.17,142.00L566.38,142.00L566.60,142.00L566.81,142.00L567.02,142.00L567.23,142.00L567.44,142.00L567.65,142.00L567.86,142.00L568.07,142.00L568.28,142.00L568.49,142.00L568.71,142.00L568.92,142.00L569.13,142.00L569.34,142.00L569.55,142.00L569.76,142.00L569.97,142.00L570.18,142.00L570.39,142.00L570.60,142.00L570.82,142.00L571.03,142.00L571.24,142.00L571.45,142.00L571.66,142.00L571.87,142.00L572.08,142.00L572.29,142.00L572.50,142.00L572.71,142.00L572.92,142.00L573.14,142.00L573.35,142.00L573.56,142.00L573.77,142.00L573.98,142.00L574.19,142.00L574.40,142.00L574.61,142.00L574.82,142.00L575.03,142.00L575.25,142.00L575.46,142.00L575.67,142.00L575.88,142.00L576.09,142.00L576.30,142.00L576.51,142.00L576.72,142.00L576.93,142.00L577.14,142.00L577.36,142.00L577.57,142.00L577.78,142.00L577.99,142.00L578.20,142.00L578.41,142.00L578.62,142.00L578.83,142.00L579.04,142.00L579.25,142.00L579.47,142.00L579.68,142.00L579.89,142.00L580.10,142.00L580.31,142.00L580.52,142.00L580.73,142.00L580.94,142.00L581.15,142.00L581.37,142.00L581.58,142.00L581.79,142.00L582.00,142.00L582.21,142.00L582.42,142.00L582.63,142.00L582.84,142.00L583.05,142.00L583.26,142.00L583.48,142.00L583.69,142.00L583.90,142.00L584.11,142.00L584.32,142.00L584.53,142.00L584.74,142.00L584.95,142.00L585.16,142.00L585.37,142.00L585.59,142.00L585.80,142.00L586.01,142.00L586.22,142.00L586.43,142.00L586.64,142.00L586.85,142.00L587.06,142.00L587.27,142.00L587.48,142.00L587.69,142.00L587.91,142.00L588.12,142.00L588.33,142.00L588.54,142.00L588.75,142.00L588.96,142.00L589.17,142.00L589.38,142.00L589.59,142.00L589.80,142.00L590.02,142.00L590.23,142.00L590.44,142.00L590.65,142.00L590.86,142.00L591.07,142.00L591.28,142.00L591.49,142.00L591.70,142.00L591.91,142.00L592.13,142.00L592.34,142.00L592.55,142.00L592.76,142.00L592.97,142.00L593.18,142.00L593.39,142.00L593.60,142.00L593.81,142.00L594.02,142.00L594.24,142.00L594.45,142.00L594.66,142.00L594.87,142.00L595.08,142.00L595.29,142.00L595.50,142.00L595.71,142.00L595.92,142.00L596.13,142.00L596.35,142.00L596.56,142.00L596.77,142.00L596.98,142.00L597.19,142.00L597.40,142.00L597.61,142.00L597.82,142.00L598.03,142.00L598.25,142.00L598.46,142.00L598.67,142.00L598.88,142.00L599.09,142.00L599.30,142.00L599.51,142.00L599.72,142.00L599.93,142.00L600.14,142.00L600.36,142.00L600.57,142.00L600.78,142.00L600.99,142.00L601.20,142.00L601.41,142.00L601.62,142.00L601.83,142.00L602.04,142.00L602.25,142.00L602.47,142.00L602.68,142.00L602.89,142.00L603.10,142.00L603.31,142.00L603.52,142.00L603.73,142.00L603.94,142.00L604.15,142.00L604.36,142.00L604.58,142.00L604.79,142.00L605.00,142.00L605.21,142.00L605.42,142.00L605.63,142.00L605.84,142.00L606.05,142.00L606.26,142.00L606.47,142.00L606.68,142.00L606.90,142.00L607.11,142.00L607.32,142.00L607.53,142.00L607.74,142.00L607.95,142.00L608.16,142.00L608.37,142.00L608.58,142.00L608.79,142.00L609.01,142.00L609.22,142.00L609.43,142.00L609.64,142.00L609.85,142.00L610.06,142.00L610.27,142.00L610.48,142.00L610.69,142.00L610.90,142.00L611.12,142.00L611.33,142.00L611.54,142.00L611.75,142.00L611.96,142.00L612.17,142.00L612.38,142.00L612.59,142.00L612.80,142.00L613.01,142.00L613.23,142.00L613.44,142.00L613.65,142.00L613.86,142.00L614.07,142.00L614.28,142.00L614.49,142.00L614.70,142.00L614.91,142.00L615.12,142.00L615.34,142.00L615.55,142.00L615.76,142.00L615.97,142.00L616.18,142.00L616.39,142.00L616.60,142.00L616.81,142.00L617.02,142.00L617.24,142.00L617.45,142.00L617.66,142.00L617.87,142.00L618.08,142.00L618.29,142.00L618.50,142.00L618.71,142.00L618.92,142.00L619.13,142.00L619.35,142.00L619.56,142.00L619.77,142.00L619.98,142.00L620.19,142.00L620.40,142.00L620.61,142.00L620.82,142.00L621.03,142.00L621.24,142.00L621.45,142.00L621.67,142.00L621.88,142.00L622.09,142.00L622.30,142.00L622.51,142.00L622.72,142.00L622.93,142.00L623.14,142.00L623.35,142.00L623.57,142.00L623.78,142.00L623.99,142.00L624.20,142.00L624.41,142.00L624.62,142.00L624.83,142.00L625.04,142.00L625.25,142.00L625.46,142.00L625.67,142.00L625.89,142.00L626.10,142.00L626.31,142.00L626.52,142.00L626.73,142.00L626.94,142.00L627.15,142.00L627.36,142.00L627.57,142.00L627.78,142.00L628.00,142.00L628.21,142.00L628.42,142.00L628.63,142.00L628.84,142.00L629.05,142.00L629.26,142.00L629.47,142.00L629.68,142.00L629.89,142.00L630.11,142.00L630.32,142.00L630.53,142.00L630.74,142.00L630.95,142.00L631.16,142.00L631.37,142.00L631.58,142.00L631.79,142.00L632.00,142.00L632.22,142.00L632.43,142.00L632.64,142.00L632.85,142.00L633.06,142.00L633.27,142.00L633.48,142.00L633.69,142.00L633.90,142.00L634.12,142.00L634.33,142.00L634.54,142.00L634.75,142.00L634.96,142.00L635.17,142.00L635.38,142.00L635.59,142.00L635.80,142.00L636.01,142.00L636.23,142.00L636.44,142.00L636.65,142.00L636.86,142.00L637.07,142.00L637.28,142.00L637.49,142.00L637.70,142.00L637.91,142.00L638.12,142.00L638.34,142.00L638.55,142.00L638.76,142.00L638.97,142.00L639.18,142.00L639.39,142.00L639.60,142.00L639.81,142.00L640.02,142.00L640.23,142.00L640.44,142.00L640.66,142.00L640.87,142.00L641.08,142.00L641.29,142.00L641.50,142.00L641.71,142.00" stroke="#ff0000" stroke-width="1.45" stroke-dasharray="1 0.95" fill="none"/>
</g>
<g font-size="8.20" fill="#262626" stroke="#262626" stroke-width="0.15"><text x="469.99" y="152.90" textLength="4.23" lengthAdjust="spacingAndGlyphs">0</text><text x="507.96" y="152.90" textLength="12.68" lengthAdjust="spacingAndGlyphs">100</text><text x="550.16" y="152.90" textLength="12.68" lengthAdjust="spacingAndGlyphs">200</text><text x="592.36" y="152.90" textLength="12.68" lengthAdjust="spacingAndGlyphs">300</text><text x="634.56" y="152.90" textLength="12.68" lengthAdjust="spacingAndGlyphs">400</text><text x="463.87" y="144.30" textLength="4.23" lengthAdjust="spacingAndGlyphs">0</text><text x="457.53" y="119.44" textLength="10.57" lengthAdjust="spacingAndGlyphs">0.2</text><text x="457.53" y="94.59" textLength="10.57" lengthAdjust="spacingAndGlyphs">0.4</text><text x="457.53" y="69.73" textLength="10.57" lengthAdjust="spacingAndGlyphs">0.6</text><text x="457.53" y="44.87" textLength="10.57" lengthAdjust="spacingAndGlyphs">0.8</text><text x="463.87" y="20.01" textLength="4.23" lengthAdjust="spacingAndGlyphs">1</text></g>
<text x="554.30" y="163.80" text-anchor="middle" font-size="8.45" fill="#262626" stroke="#262626" stroke-width="0.15">Degree k</text>
<text transform="translate(452.80,82.75) rotate(-90)" text-anchor="middle" font-size="8.4" fill="#262626" stroke="#262626" stroke-width="0.15">Probability of paradox</text>
<text x="545.40" y="7.50" text-anchor="middle" font-size="8.5" font-weight="bold" fill="#000">Skitter Internet Topology</text>
<path d="M61.38,193.60V324.20M95.16,193.60V324.20M128.94,193.60V324.20M162.72,193.60V324.20M27.60,299.32H196.50M27.60,274.45H196.50M27.60,249.57H196.50M27.60,224.70H196.50M27.60,199.82H196.50" stroke="#e8e8e8" stroke-width="0.6" fill="none"/>
<rect x="27.60" y="193.60" width="168.90" height="130.60" stroke="#ababab" stroke-width="1" fill="none"/>
<path d="M27.60,324.20v-1.9M27.60,193.60v1.9M61.38,324.20v-1.9M61.38,193.60v1.9M95.16,324.20v-1.9M95.16,193.60v1.9M128.94,324.20v-1.9M128.94,193.60v1.9M162.72,324.20v-1.9M162.72,193.60v1.9M196.50,324.20v-1.9M196.50,193.60v1.9M27.60,324.20h1.9M196.50,324.20h-1.9M27.60,299.32h1.9M196.50,299.32h-1.9M27.60,274.45h1.9M196.50,274.45h-1.9M27.60,249.57h1.9M196.50,249.57h-1.9M27.60,224.70h1.9M196.50,224.70h-1.9M27.60,199.82h1.9M196.50,199.82h-1.9" stroke="#808080" stroke-width="0.9" fill="none"/>
<clipPath id="c3"><rect x="25.60" y="191.60" width="172.90" height="134.60"/></clipPath>
<g clip-path="url(#c3)">
<g fill="#0000ff"><circle cx="27.60" cy="199.82" r="1.4"/><circle cx="30.13" cy="200.44" r="1.4"/><circle cx="33.00" cy="213.50" r="1.4"/><circle cx="36.05" cy="220.96" r="1.4"/><circle cx="39.09" cy="228.92" r="1.4"/><circle cx="41.45" cy="230.91" r="1.4"/><circle cx="43.14" cy="232.16" r="1.4"/><circle cx="46.18" cy="237.13" r="1.4"/><circle cx="50.23" cy="243.35" r="1.4"/><circle cx="53.10" cy="247.08" r="1.4"/><circle cx="57.16" cy="255.29" r="1.4"/><circle cx="58.85" cy="259.52" r="1.4"/><circle cx="61.38" cy="268.23" r="1.4"/><circle cx="63.07" cy="273.20" r="1.4"/><circle cx="64.76" cy="278.18" r="1.4"/><circle cx="66.45" cy="283.15" r="1.4"/><circle cx="68.14" cy="288.13" r="1.4"/><circle cx="69.83" cy="293.10" r="1.4"/><circle cx="71.51" cy="296.84" r="1.4"/><circle cx="73.20" cy="300.57" r="1.4"/><circle cx="74.89" cy="304.30" r="1.4"/><circle cx="76.58" cy="306.79" r="1.4"/><circle cx="78.27" cy="309.27" r="1.4"/><circle cx="79.96" cy="311.76" r="1.4"/><circle cx="81.65" cy="312.38" r="1.4"/><circle cx="83.34" cy="313.01" r="1.4"/><circle cx="85.03" cy="314.25" r="1.4"/><circle cx="86.72" cy="314.87" r="1.4"/><circle cx="88.40" cy="315.49" r="1.4"/><circle cx="90.09" cy="316.74" r="1.4"/><circle cx="91.78" cy="317.36" r="1.4"/><circle cx="93.47" cy="318.60" r="1.4"/><circle cx="95.16" cy="319.22" r="1.4"/><circle cx="96.85" cy="319.22" r="1.4"/><circle cx="98.54" cy="319.85" r="1.4"/><circle cx="100.23" cy="320.47" r="1.4"/><circle cx="101.92" cy="320.47" r="1.4"/><circle cx="103.61" cy="321.09" r="1.4"/><circle cx="105.29" cy="321.71" r="1.4"/><circle cx="108.50" cy="317.61" r="1.4"/><circle cx="110.36" cy="321.71" r="1.4"/><circle cx="113.74" cy="322.33" r="1.4"/><circle cx="115.43" cy="321.11" r="1.4"/><circle cx="117.12" cy="321.84" r="1.4"/><circle cx="118.81" cy="323.03" r="1.4"/><circle cx="120.50" cy="323.58" r="1.4"/><circle cx="122.18" cy="322.98" r="1.4"/><circle cx="123.87" cy="321.79" r="1.4"/><circle cx="125.56" cy="321.10" r="1.4"/><circle cx="127.25" cy="321.54" r="1.4"/><circle cx="128.94" cy="322.71" r="1.4"/><circle cx="130.63" cy="323.54" r="1.4"/><circle cx="132.32" cy="323.25" r="1.4"/><circle cx="134.01" cy="322.13" r="1.4"/><circle cx="135.70" cy="321.19" r="1.4"/><circle cx="137.39" cy="321.31" r="1.4"/><circle cx="139.07" cy="322.37" r="1.4"/><circle cx="140.76" cy="320.29" r="1.4"/><circle cx="142.45" cy="320.34" r="1.4"/><circle cx="144.14" cy="319.37" r="1.4"/><circle cx="145.83" cy="318.26" r="1.4"/><circle cx="147.52" cy="318.04" r="1.4"/><circle cx="149.21" cy="322.02" r="1.4"/><circle cx="150.90" cy="323.18" r="1.4"/><circle cx="152.59" cy="323.56" r="1.4"/><circle cx="154.28" cy="322.82" r="1.4"/><circle cx="155.96" cy="323.94" r="1.4"/><circle cx="157.65" cy="323.52" r="1.4"/><circle cx="159.34" cy="322.64" r="1.4"/><circle cx="161.03" cy="322.59" r="1.4"/><circle cx="162.72" cy="323.44" r="1.4"/><circle cx="164.41" cy="323.95" r="1.4"/><circle cx="166.10" cy="323.36" r="1.4"/><circle cx="167.79" cy="322.54" r="1.4"/><circle cx="169.48" cy="322.69" r="1.4"/><circle cx="171.16" cy="323.59" r="1.4"/><circle cx="172.85" cy="323.92" r="1.4"/><circle cx="174.54" cy="323.20" r="1.4"/><circle cx="176.23" cy="322.49" r="1.4"/><circle cx="177.92" cy="322.82" r="1.4"/><circle cx="179.61" cy="323.72" r="1.4"/><circle cx="181.30" cy="323.86" r="1.4"/><circle cx="182.99" cy="323.04" r="1.4"/><circle cx="184.68" cy="322.46" r="1.4"/><circle cx="186.37" cy="322.97" r="1.4"/><circle cx="188.05" cy="323.82" r="1.4"/><circle cx="189.74" cy="323.77" r="1.4"/><circle cx="191.43" cy="322.89" r="1.4"/><circle cx="193.12" cy="322.47" r="1.4"/><circle cx="194.81" cy="323.13" r="1.4"/><circle cx="196.50" cy="323.90" r="1.4"/><circle cx="147.52" cy="318.60" r="1.4"/><circle cx="144.14" cy="319.85" r="1.4"/><circle cx="174.54" cy="322.33" r="1.4"/></g>
<path d="M27.60,199.82L28.44,200.08L29.29,200.34L30.13,201.14L30.98,202.31L31.82,205.52L32.67,208.73L33.51,211.81L34.36,214.79L35.20,217.32L36.05,219.54L36.89,221.76L37.73,223.31L38.58,224.70L39.42,226.08L40.27,227.35L41.11,228.18L41.96,229.01L42.80,229.84L43.65,230.67L44.49,231.57L45.33,232.60L46.18,233.63L47.02,234.66L47.87,235.68L48.71,236.81L49.56,237.95L50.40,239.10L51.25,240.24L52.09,241.71L52.94,243.17L53.78,244.63L54.62,246.49L55.47,248.62L56.31,250.98L57.16,254.30L58.00,257.61L58.85,261.18L59.69,264.81L60.54,267.81L61.38,269.89L62.22,271.96L63.07,274.03L63.91,276.11L64.76,278.56L65.60,281.26L66.45,283.97L67.29,286.67L68.14,289.37L68.98,291.38L69.83,293.39L70.67,295.41L71.51,297.42L72.36,299.43L73.20,301.44L74.05,303.12L74.89,304.81L75.74,306.49L76.58,308.18L77.43,309.82L78.27,311.30L79.11,312.77L79.96,314.25L80.80,314.87L81.65,315.49L82.49,316.12L83.34,316.74L84.18,317.08L85.03,317.43L85.87,317.77L86.72,318.12L87.56,318.46L88.40,318.81L89.25,319.16L90.09,319.44L90.94,319.70L91.78,319.97L92.63,320.23L93.47,320.50L94.32,320.76L95.16,321.02L96.00,321.29L96.85,321.55L97.69,321.77L98.54,321.90L99.38,322.03L100.23,322.16L101.07,322.29L101.92,322.43L102.76,322.56L103.61,322.69L104.45,322.82L105.29,322.96L106.14,323.02L106.98,323.09L107.83,323.15L108.67,323.22L109.52,323.28L110.36,323.34L111.21,323.41L112.05,323.47L112.89,323.54L113.74,323.59L114.58,323.63L115.43,323.66L116.27,323.69L117.12,323.73L117.96,323.76L118.81,323.79L119.65,323.83L120.50,323.86L121.34,323.90L122.18,323.93L123.03,323.96L123.87,324.00L124.72,324.03L125.56,324.06L126.41,324.10L127.25,324.13L128.10,324.17L128.94,324.20L129.78,324.20L130.63,324.20L131.47,324.20L132.32,324.20L133.16,324.20L134.01,324.20L134.85,324.20L135.70,324.20L136.54,324.20L137.39,324.20L138.23,324.20L139.07,324.20L139.92,324.20L140.76,324.20L141.61,324.20L142.45,324.20L143.30,324.20L144.14,324.20L144.99,324.20L145.83,324.20L146.67,324.20L147.52,324.20L148.36,324.20L149.21,324.20L150.05,324.20L150.90,324.20L151.74,324.20L152.59,324.20L153.43,324.20L154.28,324.20L155.12,324.20L155.96,324.20L156.81,324.20L157.65,324.20L158.50,324.20L159.34,324.20L160.19,324.20L161.03,324.20L161.88,324.20L162.72,324.20L163.56,324.20L164.41,324.20L165.25,324.20L166.10,324.20L166.94,324.20L167.79,324.20L168.63,324.20L169.48,324.20L170.32,324.20L171.16,324.20L172.01,324.20L172.85,324.20L173.70,324.20L174.54,324.20L175.39,324.20L176.23,324.20L177.08,324.20L177.92,324.20L178.77,324.20L179.61,324.20L180.45,324.20L181.30,324.20L182.14,324.20L182.99,324.20L183.83,324.20L184.68,324.20L185.52,324.20L186.37,324.20L187.21,324.20L188.05,324.20L188.90,324.20L189.74,324.20L190.59,324.20L191.43,324.20L192.28,324.20L193.12,324.20L193.97,324.20L194.81,324.20L195.66,324.20L196.50,324.20" stroke="#ff0000" stroke-width="1.4" stroke-linejoin="round" fill="none"/>
<path d="M27.60,199.82L27.94,200.13L28.28,200.44L28.61,200.75L28.95,201.06L29.29,201.37L29.63,201.68L29.96,202.00L30.30,202.31L30.64,202.62L30.98,202.93L31.32,203.24L31.65,203.55L31.99,203.86L32.33,204.17L32.67,204.48L33.00,204.79L33.34,204.99L33.68,205.19L34.02,205.39L34.36,205.59L34.69,205.79L35.03,205.99L35.37,206.19L35.71,206.39L36.05,206.59L36.38,206.78L36.72,206.98L37.06,207.18L37.40,207.38L37.73,207.58L38.07,207.78L38.41,207.78L38.75,207.78L39.09,207.78L39.42,207.78L39.76,207.78L40.10,207.78L40.44,207.78L40.77,207.78L41.11,207.78L41.45,207.78L41.79,207.78L42.13,207.78L42.46,207.95L42.80,208.11L43.14,208.28L43.48,208.44L43.81,208.61L44.15,208.77L44.49,208.94L44.83,209.11L45.17,209.27L45.50,209.44L45.84,209.60L46.18,209.77L46.52,210.50L46.85,211.23L47.19,211.96L47.53,212.70L47.87,213.43L48.21,214.16L48.54,214.89L48.88,215.62L49.22,216.43L49.56,217.32L49.89,218.20L50.23,219.08L50.57,219.97L50.91,220.85L51.25,221.74L51.58,222.62L51.92,223.51L52.26,224.79L52.60,226.47L52.94,228.15L53.27,229.83L53.61,231.51L53.95,233.18L54.29,234.95L54.62,236.81L54.96,238.66L55.30,240.52L55.64,242.38L55.98,244.23L56.31,246.09L56.65,248.53L56.99,250.96L57.33,253.40L57.66,255.84L58.00,258.28L58.34,262.54L58.68,266.81L59.02,271.07L59.35,274.28L59.69,276.45L60.03,278.61L60.37,280.77L60.70,282.93L61.04,285.10L61.38,287.26L61.72,289.27L62.06,291.29L62.39,293.30L62.73,295.32L63.07,297.33L63.41,299.01L63.74,300.69L64.08,302.37L64.42,304.05L64.76,305.73L65.10,307.41L65.43,308.54L65.77,309.68L66.11,310.81L66.45,311.94L66.78,313.07L67.12,314.21L67.46,315.34L67.80,316.47L68.14,317.61L68.47,317.94L68.81,318.27L69.15,318.60L69.49,318.93L69.83,319.27L70.16,319.60L70.50,319.93L70.84,320.26L71.18,320.59L71.51,320.92L71.85,321.26L72.19,321.59L72.53,321.92L72.87,322.25L73.20,322.58L73.54,322.69L73.88,322.80L74.22,322.91L74.55,323.01L74.89,323.12L75.23,323.23L75.57,323.34L75.91,323.45L76.24,323.55L76.58,323.66L76.92,323.77L77.26,323.88L77.59,323.98L77.93,324.09L78.27,324.20L78.61,324.20L78.95,324.20L79.28,324.20L79.62,324.20L79.96,324.20L80.30,324.20L80.63,324.20L80.97,324.20L81.31,324.20L81.65,324.20L81.99,324.20L82.32,324.20L82.66,324.20L83.00,324.20L83.34,324.20L83.67,324.20L84.01,324.20L84.35,324.20L84.69,324.20L85.03,324.20L85.36,324.20L85.70,324.20L86.04,324.20L86.38,324.20L86.72,324.20L87.05,324.20L87.39,324.20L87.73,324.20L88.07,324.20L88.40,324.20L88.74,324.20L89.08,324.20L89.42,324.20L89.76,324.20L90.09,324.20L90.43,324.20L90.77,324.20L91.11,324.20L91.44,324.20L91.78,324.20L92.12,324.20L92.46,324.20L92.80,324.20L93.13,324.20L93.47,324.20L93.81,324.20L94.15,324.20L94.48,324.20L94.82,324.20L95.16,324.20L95.50,324.20L95.84,324.20L96.17,324.20L96.51,324.20L96.85,324.20L97.19,324.20L97.52,324.20L97.86,324.20L98.20,324.20L98.54,324.20L98.88,324.20L99.21,324.20L99.55,324.20L99.89,324.20L100.23,324.20L100.56,324.20L100.90,324.20L101.24,324.20L101.58,324.20L101.92,324.20L102.25,324.20L102.59,324.20L102.93,324.20L103.27,324.20L103.61,324.20L103.94,324.20L104.28,324.20L104.62,324.20L104.96,324.20L105.29,324.20L105.63,324.20L105.97,324.20L106.31,324.20L106.65,324.20L106.98,324.20L107.32,324.20L107.66,324.20L108.00,324.20L108.33,324.20L108.67,324.20L109.01,324.20L109.35,324.20L109.69,324.20L110.02,324.20L110.36,324.20L110.70,324.20L111.04,324.20L111.37,324.20L111.71,324.20L112.05,324.20L112.39,324.20L112.73,324.20L113.06,324.20L113.40,324.20L113.74,324.20L114.08,324.20L114.41,324.20L114.75,324.20L115.09,324.20L115.43,324.20L115.77,324.20L116.10,324.20L116.44,324.20L116.78,324.20L117.12,324.20L117.45,324.20L117.79,324.20L118.13,324.20L118.47,324.20L118.81,324.20L119.14,324.20L119.48,324.20L119.82,324.20L120.16,324.20L120.50,324.20L120.83,324.20L121.17,324.20L121.51,324.20L121.85,324.20L122.18,324.20L122.52,324.20L122.86,324.20L123.20,324.20L123.54,324.20L123.87,324.20L124.21,324.20L124.55,324.20L124.89,324.20L125.22,324.20L125.56,324.20L125.90,324.20L126.24,324.20L126.58,324.20L126.91,324.20L127.25,324.20L127.59,324.20L127.93,324.20L128.26,324.20L128.60,324.20L128.94,324.20L129.28,324.20L129.62,324.20L129.95,324.20L130.29,324.20L130.63,324.20L130.97,324.20L131.30,324.20L131.64,324.20L131.98,324.20L132.32,324.20L132.66,324.20L132.99,324.20L133.33,324.20L133.67,324.20L134.01,324.20L134.34,324.20L134.68,324.20L135.02,324.20L135.36,324.20L135.70,324.20L136.03,324.20L136.37,324.20L136.71,324.20L137.05,324.20L137.39,324.20L137.72,324.20L138.06,324.20L138.40,324.20L138.74,324.20L139.07,324.20L139.41,324.20L139.75,324.20L140.09,324.20L140.43,324.20L140.76,324.20L141.10,324.20L141.44,324.20L141.78,324.20L142.11,324.20L142.45,324.20L142.79,324.20L143.13,324.20L143.47,324.20L143.80,324.20L144.14,324.20L144.48,324.20L144.82,324.20L145.15,324.20L145.49,324.20L145.83,324.20L146.17,324.20L146.51,324.20L146.84,324.20L147.18,324.20L147.52,324.20L147.86,324.20L148.19,324.20L148.53,324.20L148.87,324.20L149.21,324.20L149.55,324.20L149.88,324.20L150.22,324.20L150.56,324.20L150.90,324.20L151.23,324.20L151.57,324.20L151.91,324.20L152.25,324.20L152.59,324.20L152.92,324.20L153.26,324.20L153.60,324.20L153.94,324.20L154.28,324.20L154.61,324.20L154.95,324.20L155.29,324.20L155.63,324.20L155.96,324.20L156.30,324.20L156.64,324.20L156.98,324.20L157.32,324.20L157.65,324.20L157.99,324.20L158.33,324.20L158.67,324.20L159.00,324.20L159.34,324.20L159.68,324.20L160.02,324.20L160.36,324.20L160.69,324.20L161.03,324.20L161.37,324.20L161.71,324.20L162.04,324.20L162.38,324.20L162.72,324.20L163.06,324.20L163.40,324.20L163.73,324.20L164.07,324.20L164.41,324.20L164.75,324.20L165.08,324.20L165.42,324.20L165.76,324.20L166.10,324.20L166.44,324.20L166.77,324.20L167.11,324.20L167.45,324.20L167.79,324.20L168.12,324.20L168.46,324.20L168.80,324.20L169.14,324.20L169.48,324.20L169.81,324.20L170.15,324.20L170.49,324.20L170.83,324.20L171.16,324.20L171.50,324.20L171.84,324.20L172.18,324.20L172.52,324.20L172.85,324.20L173.19,324.20L173.53,324.20L173.87,324.20L174.21,324.20L174.54,324.20L174.88,324.20L175.22,324.20L175.56,324.20L175.89,324.20L176.23,324.20L176.57,324.20L176.91,324.20L177.25,324.20L177.58,324.20L177.92,324.20L178.26,324.20L178.60,324.20L178.93,324.20L179.27,324.20L179.61,324.20L179.95,324.20L180.29,324.20L180.62,324.20L180.96,324.20L181.30,324.20L181.64,324.20L181.97,324.20L182.31,324.20L182.65,324.20L182.99,324.20L183.33,324.20L183.66,324.20L184.00,324.20L184.34,324.20L184.68,324.20L185.01,324.20L185.35,324.20L185.69,324.20L186.03,324.20L186.37,324.20L186.70,324.20L187.04,324.20L187.38,324.20L187.72,324.20L188.05,324.20L188.39,324.20L188.73,324.20L189.07,324.20L189.41,324.20L189.74,324.20L190.08,324.20L190.42,324.20L190.76,324.20L191.10,324.20L191.43,324.20L191.77,324.20L192.11,324.20L192.45,324.20L192.78,324.20L193.12,324.20L193.46,324.20L193.80,324.20L194.14,324.20L194.47,324.20L194.81,324.20L195.15,324.20L195.49,324.20L195.82,324.20L196.16,324.20L196.50,324.20" stroke="#ff0000" stroke-width="1.45" stroke-dasharray="1 0.95" fill="none"/>
</g>
<g font-size="8.20" fill="#262626" stroke="#262626" stroke-width="0.15"><text x="24.89" y="335.10" textLength="4.23" lengthAdjust="spacingAndGlyphs">0</text><text x="56.55" y="335.10" textLength="8.45" lengthAdjust="spacingAndGlyphs">20</text><text x="90.33" y="335.10" textLength="8.45" lengthAdjust="spacingAndGlyphs">40</text><text x="124.11" y="335.10" textLength="8.45" lengthAdjust="spacingAndGlyphs">60</text><text x="157.89" y="335.10" textLength="8.45" lengthAdjust="spacingAndGlyphs">80</text><text x="189.56" y="335.10" textLength="12.68" lengthAdjust="spacingAndGlyphs">100</text><text x="18.77" y="326.50" textLength="4.23" lengthAdjust="spacingAndGlyphs">0</text><text x="12.43" y="301.62" textLength="10.57" lengthAdjust="spacingAndGlyphs">0.2</text><text x="12.43" y="276.75" textLength="10.57" lengthAdjust="spacingAndGlyphs">0.4</text><text x="12.43" y="251.87" textLength="10.57" lengthAdjust="spacingAndGlyphs">0.6</text><text x="12.43" y="227.00" textLength="10.57" lengthAdjust="spacingAndGlyphs">0.8</text><text x="18.77" y="202.12" textLength="4.23" lengthAdjust="spacingAndGlyphs">1</text></g>
<text x="109.25" y="346.00" text-anchor="middle" font-size="8.45" fill="#262626" stroke="#262626" stroke-width="0.15">Degree k</text>
<text transform="translate(7.70,264.90) rotate(-90)" text-anchor="middle" font-size="8.4" fill="#262626" stroke="#262626" stroke-width="0.15">Probability of paradox</text>
<text x="104.90" y="189.60" text-anchor="middle" font-size="8.5" font-weight="bold" fill="#000">Google Hyperlink</text>
<path d="M283.76,193.60V324.20M317.72,193.60V324.20M351.68,193.60V324.20M385.64,193.60V324.20M249.80,299.32H419.60M249.80,274.45H419.60M249.80,249.57H419.60M249.80,224.70H419.60M249.80,199.82H419.60" stroke="#e8e8e8" stroke-width="0.6" fill="none"/>
<rect x="249.80" y="193.60" width="169.80" height="130.60" stroke="#ababab" stroke-width="1" fill="none"/>
<path d="M249.80,324.20v-1.9M249.80,193.60v1.9M283.76,324.20v-1.9M283.76,193.60v1.9M317.72,324.20v-1.9M317.72,193.60v1.9M351.68,324.20v-1.9M351.68,193.60v1.9M385.64,324.20v-1.9M385.64,193.60v1.9M419.60,324.20v-1.9M419.60,193.60v1.9M249.80,324.20h1.9M419.60,324.20h-1.9M249.80,299.32h1.9M419.60,299.32h-1.9M249.80,274.45h1.9M419.60,274.45h-1.9M249.80,249.57h1.9M419.60,249.57h-1.9M249.80,224.70h1.9M419.60,224.70h-1.9M249.80,199.82h1.9M419.60,199.82h-1.9" stroke="#808080" stroke-width="0.9" fill="none"/>
<clipPath id="c4"><rect x="247.80" y="191.60" width="173.80" height="134.60"/></clipPath>
<g clip-path="url(#c4)">
<g fill="#0000ff"><circle cx="250.90" cy="207.90" r="1.4"/><circle cx="254.72" cy="205.17" r="1.4"/><circle cx="257.44" cy="202.93" r="1.4"/><circle cx="259.65" cy="203.55" r="1.4"/><circle cx="262.37" cy="205.66" r="1.4"/><circle cx="265.08" cy="207.03" r="1.4"/><circle cx="267.63" cy="206.66" r="1.4"/><circle cx="270.86" cy="208.90" r="1.4"/><circle cx="273.57" cy="210.39" r="1.4"/><circle cx="275.61" cy="211.64" r="1.4"/><circle cx="277.48" cy="210.39" r="1.4"/><circle cx="280.36" cy="212.75" r="1.4"/><circle cx="282.91" cy="213.50" r="1.4"/><circle cx="285.46" cy="214.74" r="1.4"/><circle cx="288.85" cy="218.48" r="1.4"/><circle cx="292.25" cy="223.82" r="1.4"/><circle cx="294.80" cy="224.70" r="1.4"/><circle cx="297.34" cy="225.94" r="1.4"/><circle cx="300.74" cy="224.70" r="1.4"/><circle cx="303.29" cy="232.16" r="1.4"/><circle cx="305.49" cy="230.29" r="1.4"/><circle cx="307.53" cy="234.65" r="1.4"/><circle cx="309.23" cy="233.40" r="1.4"/><circle cx="310.93" cy="237.13" r="1.4"/><circle cx="312.63" cy="242.11" r="1.4"/><circle cx="314.32" cy="245.84" r="1.4"/><circle cx="315.68" cy="249.57" r="1.4"/><circle cx="317.72" cy="252.06" r="1.4"/><circle cx="319.42" cy="254.55" r="1.4"/><circle cx="321.63" cy="253.30" r="1.4"/><circle cx="323.15" cy="249.57" r="1.4"/><circle cx="324.85" cy="259.52" r="1.4"/><circle cx="326.55" cy="263.25" r="1.4"/><circle cx="328.25" cy="265.74" r="1.4"/><circle cx="330.46" cy="268.23" r="1.4"/><circle cx="332.15" cy="269.47" r="1.4"/><circle cx="336.40" cy="262.01" r="1.4"/><circle cx="338.10" cy="275.69" r="1.4"/><circle cx="340.47" cy="276.94" r="1.4"/><circle cx="342.34" cy="279.42" r="1.4"/><circle cx="344.21" cy="277.18" r="1.4"/><circle cx="345.74" cy="283.15" r="1.4"/><circle cx="347.44" cy="286.89" r="1.4"/><circle cx="349.13" cy="284.40" r="1.4"/><circle cx="351.34" cy="280.17" r="1.4"/><circle cx="353.04" cy="286.89" r="1.4"/><circle cx="354.57" cy="291.86" r="1.4"/><circle cx="356.26" cy="299.32" r="1.4"/><circle cx="357.62" cy="303.06" r="1.4"/><circle cx="360.17" cy="308.40" r="1.4"/><circle cx="361.87" cy="301.81" r="1.4"/><circle cx="363.57" cy="300.57" r="1.4"/><circle cx="365.26" cy="301.19" r="1.4"/><circle cx="366.96" cy="303.06" r="1.4"/><circle cx="368.66" cy="306.79" r="1.4"/><circle cx="370.36" cy="311.76" r="1.4"/><circle cx="372.06" cy="313.01" r="1.4"/><circle cx="374.60" cy="314.25" r="1.4"/><circle cx="377.15" cy="310.52" r="1.4"/><circle cx="379.19" cy="310.52" r="1.4"/><circle cx="380.55" cy="316.74" r="1.4"/><circle cx="382.24" cy="319.22" r="1.4"/><circle cx="383.94" cy="321.71" r="1.4"/><circle cx="385.64" cy="322.96" r="1.4"/><circle cx="388.53" cy="318.60" r="1.4"/><circle cx="390.73" cy="320.47" r="1.4"/><circle cx="392.43" cy="315.49" r="1.4"/><circle cx="394.13" cy="321.71" r="1.4"/><circle cx="395.83" cy="322.96" r="1.4"/><circle cx="398.54" cy="317.61" r="1.4"/><circle cx="400.92" cy="321.71" r="1.4"/><circle cx="402.62" cy="322.71" r="1.4"/><circle cx="404.32" cy="324.20" r="1.4"/><circle cx="406.02" cy="324.20" r="1.4"/><circle cx="407.71" cy="324.20" r="1.4"/><circle cx="409.41" cy="324.20" r="1.4"/><circle cx="411.11" cy="324.20" r="1.4"/><circle cx="412.81" cy="324.20" r="1.4"/><circle cx="414.51" cy="324.20" r="1.4"/><circle cx="416.20" cy="324.20" r="1.4"/><circle cx="417.90" cy="324.20" r="1.4"/><circle cx="419.60" cy="324.20" r="1.4"/></g>
<path d="M249.80,207.90L250.22,206.95L250.65,206.00L251.07,205.05L251.50,204.10L251.92,203.15L252.35,202.20L252.77,201.25L253.20,201.01L253.62,200.94L254.05,200.87L254.47,200.80L254.89,200.73L255.32,200.66L255.74,200.59L256.17,200.52L256.59,200.45L257.02,200.39L257.44,200.32L257.87,200.49L258.29,200.66L258.71,200.83L259.14,201.00L259.56,201.17L259.99,201.35L260.41,201.52L260.84,201.69L261.26,201.86L261.69,202.03L262.11,202.20L262.54,202.34L262.96,202.44L263.38,202.53L263.81,202.63L264.23,202.72L264.66,202.82L265.08,202.91L265.51,203.00L265.93,203.10L266.36,203.19L266.78,203.29L267.20,203.38L267.63,203.48L268.05,203.62L268.48,203.99L268.90,204.36L269.33,204.72L269.75,205.09L270.18,205.45L270.60,205.82L271.03,206.07L271.45,206.14L271.87,206.22L272.30,206.29L272.72,206.37L273.15,206.45L273.57,206.52L274.00,206.60L274.42,206.67L274.85,206.75L275.27,206.82L275.69,206.90L276.12,206.97L276.54,207.12L276.97,207.54L277.39,207.96L277.82,208.38L278.24,208.81L278.67,209.23L279.09,209.65L279.51,210.07L279.94,210.49L280.36,210.92L280.79,211.34L281.21,211.76L281.64,211.87L282.06,211.99L282.49,212.10L282.91,212.21L283.34,212.32L283.76,212.44L284.18,212.55L284.61,212.66L285.03,212.82L285.46,213.15L285.88,213.49L286.31,213.82L286.73,214.15L287.16,214.48L287.58,214.82L288.00,215.15L288.43,215.48L288.85,215.81L289.28,216.15L289.70,216.48L290.13,217.14L290.55,218.01L290.98,218.88L291.40,219.76L291.83,220.63L292.25,221.51L292.67,222.27L293.10,222.58L293.52,222.73L293.95,222.26L294.37,221.78L294.80,221.30L295.22,220.82L295.65,220.34L296.07,221.07L296.50,221.79L296.92,222.52L297.34,223.24L297.77,223.97L298.19,224.70L298.62,225.09L299.04,225.49L299.47,225.89L299.89,226.28L300.32,226.68L300.74,227.08L301.16,227.48L301.59,228.43L302.01,229.51L302.44,230.60L302.86,231.69L303.29,232.78L303.71,233.87L304.14,234.96L304.56,236.05L304.99,237.13L305.41,236.72L305.83,236.30L306.26,235.89L306.68,235.47L307.11,235.06L307.53,234.65L307.96,235.68L308.38,236.72L308.81,237.76L309.23,238.79L309.65,239.71L310.08,240.13L310.50,240.55L310.93,240.98L311.35,241.40L311.78,241.83L312.20,242.25L312.63,242.67L313.05,243.10L313.48,243.74L313.90,244.71L314.32,245.68L314.75,246.66L315.17,247.63L315.60,248.60L316.02,249.57L316.45,250.09L316.87,250.61L317.30,251.13L317.72,251.64L318.14,252.16L318.57,252.68L318.99,253.20L319.42,253.72L319.84,254.24L320.27,254.37L320.69,253.92L321.12,253.48L321.54,253.04L321.97,252.59L322.39,252.15L322.81,253.41L323.24,255.09L323.66,256.78L324.09,258.46L324.51,260.14L324.94,261.04L325.36,261.94L325.79,262.83L326.21,263.73L326.63,264.63L327.06,265.52L327.48,266.35L327.91,266.90L328.33,267.45L328.76,268.01L329.18,268.56L329.61,269.11L330.03,269.67L330.46,270.22L330.88,270.50L331.30,270.77L331.73,271.05L332.15,271.32L332.58,271.60L333.00,271.88L333.43,272.15L333.85,271.74L334.28,271.16L334.70,270.57L335.12,269.98L335.55,269.40L335.97,268.81L336.40,268.23L336.82,271.77L337.25,275.32L337.67,278.86L338.10,282.41L338.52,281.87L338.95,281.34L339.37,280.81L339.79,280.28L340.22,279.74L340.64,280.25L341.07,282.33L341.49,284.40L341.92,286.47L342.34,288.54L342.77,290.62L343.19,292.69L343.61,293.85L344.04,291.36L344.46,288.88L344.89,286.39L345.31,288.16L345.74,289.93L346.16,291.71L346.59,293.48L347.01,292.95L347.44,292.42L347.86,291.88L348.28,291.35L348.71,290.82L349.13,290.29L349.56,289.76L349.98,289.23L350.41,288.70L350.83,288.07L351.26,287.29L351.68,286.51L352.10,285.74L352.53,286.29L352.95,288.85L353.38,291.41L353.80,293.97L354.23,296.53L354.65,298.81L355.08,299.96L355.50,301.10L355.93,302.25L356.35,303.40L356.77,304.55L357.20,304.78L357.62,305.01L358.05,305.25L358.47,305.48L358.90,305.71L359.32,305.95L359.75,305.92L360.17,305.71L360.59,305.50L361.02,305.29L361.44,305.09L361.87,304.88L362.29,304.67L362.72,304.61L363.14,304.77L363.57,304.92L363.99,305.08L364.42,305.23L364.84,305.39L365.26,305.54L365.69,306.29L366.11,307.03L366.54,307.77L366.96,308.52L367.39,309.26L367.81,310.00L368.24,310.75L368.66,311.49L369.08,312.24L369.51,312.50L369.93,312.65L370.36,312.80L370.78,312.94L371.21,313.09L371.63,313.24L372.06,313.39L372.48,313.56L372.91,313.83L373.33,314.11L373.75,314.39L374.18,314.66L374.60,314.94L375.03,315.22L375.45,315.49L375.88,315.15L376.30,314.80L376.73,314.46L377.15,314.11L377.57,313.77L378.00,313.42L378.42,313.07L378.85,314.04L379.27,315.34L379.70,316.63L380.12,317.93L380.55,319.22L380.97,319.57L381.39,319.92L381.82,320.26L382.24,320.61L382.67,320.95L383.09,321.30L383.52,321.64L383.94,321.86L384.37,322.04L384.79,322.22L385.22,322.41L385.64,322.59L386.06,322.77L386.49,322.96L386.91,322.75L387.34,322.54L387.76,322.33L388.19,322.13L388.61,321.92L389.04,321.71L389.46,321.56L389.88,321.40L390.31,321.25L390.73,321.09L391.16,320.94L391.58,320.78L392.01,320.62L392.43,320.47L392.86,320.88L393.28,321.30L393.71,321.71L394.13,322.13L394.55,322.54L394.98,322.96L395.40,323.06L395.83,323.16L396.25,323.27L396.68,323.37L397.10,323.47L397.53,323.58L397.95,323.66L398.38,323.73L398.80,323.81L399.22,323.89L399.65,323.97L400.07,324.04L400.50,324.12L400.92,324.20L401.35,324.20L401.77,324.20L402.20,324.20L402.62,324.20L403.04,324.20L403.47,324.20L403.89,324.20L404.32,324.20L404.74,324.20L405.17,324.20L405.59,324.20L406.02,324.20L406.44,324.20L406.87,324.20L407.29,324.20L407.71,324.20L408.14,324.20L408.56,324.20L408.99,324.20L409.41,324.20L409.84,324.20L410.26,324.20L410.69,324.20L411.11,324.20L411.53,324.20L411.96,324.20L412.38,324.20L412.81,324.20L413.23,324.20L413.66,324.20L414.08,324.20L414.51,324.20L414.93,324.20L415.36,324.20L415.78,324.20L416.20,324.20L416.63,324.20L417.05,324.20L417.48,324.20L417.90,324.20L418.33,324.20L418.75,324.20L419.18,324.20L419.60,324.20" stroke="#ff0000" stroke-width="1.4" stroke-linejoin="round" fill="none"/>
<path d="M249.80,207.90L249.97,207.45L250.14,206.99L250.31,206.54L250.48,206.08L250.65,205.62L250.82,205.17L250.99,204.71L251.16,204.26L251.33,203.80L251.50,203.34L251.67,202.89L251.84,202.43L252.01,201.97L252.18,201.52L252.35,201.06L252.52,200.98L252.69,200.89L252.86,200.81L253.03,200.72L253.20,200.64L253.37,200.55L253.54,200.47L253.71,200.38L253.88,200.30L254.05,200.21L254.21,200.13L254.38,200.04L254.55,199.96L254.72,199.87L254.89,199.79L255.06,199.70L255.23,199.62L255.40,199.53L255.57,199.45L255.74,199.44L255.91,199.44L256.08,199.44L256.25,199.44L256.42,199.44L256.59,199.43L256.76,199.43L256.93,199.43L257.10,199.43L257.27,199.43L257.44,199.43L257.61,199.42L257.78,199.42L257.95,199.42L258.12,199.42L258.29,199.42L258.46,199.41L258.63,199.41L258.80,199.41L258.97,199.41L259.14,199.41L259.31,199.40L259.48,199.40L259.65,199.40L259.82,199.40L259.99,199.40L260.16,199.40L260.33,199.39L260.50,199.39L260.67,199.39L260.84,199.39L261.01,199.39L261.18,199.38L261.35,199.38L261.52,199.38L261.69,199.38L261.86,199.38L262.03,199.37L262.20,199.37L262.37,199.37L262.54,199.37L262.70,199.37L262.87,199.36L263.04,199.36L263.21,199.36L263.38,199.36L263.55,199.36L263.72,199.36L263.89,199.35L264.06,199.35L264.23,199.35L264.40,199.35L264.57,199.35L264.74,199.34L264.91,199.34L265.08,199.34L265.25,199.34L265.42,199.34L265.59,199.33L265.76,199.33L265.93,199.33L266.10,199.33L266.27,199.33L266.44,199.33L266.61,199.32L266.78,199.32L266.95,199.33L267.12,199.33L267.29,199.34L267.46,199.34L267.63,199.35L267.80,199.36L267.97,199.36L268.14,199.37L268.31,199.37L268.48,199.38L268.65,199.39L268.82,199.39L268.99,199.40L269.16,199.40L269.33,199.41L269.50,199.42L269.67,199.42L269.84,199.43L270.01,199.43L270.18,199.44L270.35,199.44L270.52,199.45L270.69,199.46L270.86,199.46L271.03,199.47L271.19,199.47L271.36,199.48L271.53,199.49L271.70,199.49L271.87,199.50L272.04,199.50L272.21,199.51L272.38,199.51L272.55,199.52L272.72,199.53L272.89,199.53L273.06,199.54L273.23,199.54L273.40,199.55L273.57,199.56L273.74,199.56L273.91,199.57L274.08,199.57L274.25,199.58L274.42,199.58L274.59,199.59L274.76,199.60L274.93,199.60L275.10,199.61L275.27,199.61L275.44,199.62L275.61,199.63L275.78,199.63L275.95,199.64L276.12,199.64L276.29,199.65L276.46,199.66L276.63,199.66L276.80,199.67L276.97,199.67L277.14,199.68L277.31,199.68L277.48,199.69L277.65,199.70L277.82,199.70L277.99,199.71L278.16,199.71L278.33,199.72L278.50,199.73L278.67,199.73L278.84,199.74L279.01,199.74L279.18,199.75L279.35,199.75L279.51,199.76L279.68,199.77L279.85,199.77L280.02,199.78L280.19,199.78L280.36,199.79L280.53,199.80L280.70,199.80L280.87,199.81L281.04,199.81L281.21,199.82L281.38,199.84L281.55,199.87L281.72,199.89L281.89,199.92L282.06,199.94L282.23,199.97L282.40,199.99L282.57,200.02L282.74,200.04L282.91,200.07L283.08,200.09L283.25,200.12L283.42,200.14L283.59,200.17L283.76,200.19L283.93,200.22L284.10,200.24L284.27,200.27L284.44,200.29L284.61,200.32L284.78,200.34L284.95,200.37L285.12,200.39L285.29,200.42L285.46,200.44L285.63,200.47L285.80,200.51L285.97,200.54L286.14,200.57L286.31,200.61L286.48,200.64L286.65,200.68L286.82,200.71L286.99,200.74L287.16,200.78L287.33,200.81L287.50,200.84L287.67,200.88L287.84,200.91L288.00,200.94L288.17,200.98L288.34,201.01L288.51,201.04L288.68,201.08L288.85,201.11L289.02,201.14L289.19,201.18L289.36,201.21L289.53,201.24L289.70,201.28L289.87,201.31L290.04,201.43L290.21,201.54L290.38,201.66L290.55,201.78L290.72,201.89L290.89,202.01L291.06,202.13L291.23,202.24L291.40,202.36L291.57,202.48L291.74,202.59L291.91,202.71L292.08,202.83L292.25,202.94L292.42,203.06L292.59,203.18L292.76,203.22L292.93,203.26L293.10,203.30L293.27,203.34L293.44,203.38L293.61,203.42L293.78,203.46L293.95,203.50L294.12,203.54L294.29,203.58L294.46,203.62L294.63,203.65L294.80,203.69L294.97,203.73L295.14,203.77L295.31,203.81L295.48,203.85L295.65,203.89L295.82,203.93L295.99,203.97L296.16,204.01L296.33,204.05L296.50,204.09L296.66,204.13L296.83,204.17L297.00,204.48L297.17,204.79L297.34,205.11L297.51,205.42L297.68,205.73L297.85,206.04L298.02,206.35L298.19,206.66L298.36,206.97L298.53,207.28L298.70,207.59L298.87,207.90L299.04,208.31L299.21,208.71L299.38,209.11L299.55,209.51L299.72,209.92L299.89,210.32L300.06,210.72L300.23,211.12L300.40,211.53L300.57,211.93L300.74,212.33L300.91,212.73L301.08,213.14L301.25,213.54L301.42,213.94L301.59,214.34L301.76,214.74L301.93,214.43L302.10,214.12L302.27,213.81L302.44,213.50L302.61,213.19L302.78,212.88L302.95,212.57L303.12,212.26L303.29,211.95L303.46,211.64L303.63,211.95L303.80,212.26L303.97,212.57L304.14,212.88L304.31,213.19L304.48,213.50L304.65,213.81L304.82,214.12L304.99,214.43L305.15,214.74L305.32,214.47L305.49,214.19L305.66,213.92L305.83,213.64L306.00,213.36L306.17,213.09L306.34,212.81L306.51,212.53L306.68,212.26L306.85,212.11L307.02,211.96L307.19,211.82L307.36,211.67L307.53,211.53L307.70,211.38L307.87,211.23L308.04,211.09L308.21,210.94L308.38,210.79L308.55,210.65L308.72,210.50L308.89,210.35L309.06,210.21L309.23,210.06L309.40,209.92L309.57,209.77L309.74,211.01L309.91,212.26L310.08,213.50L310.25,214.74L310.42,215.99L310.59,217.23L310.76,217.70L310.93,218.17L311.10,218.63L311.27,219.10L311.44,219.56L311.61,220.03L311.78,220.50L311.95,220.96L312.12,221.43L312.29,221.90L312.46,222.36L312.63,222.83L312.80,223.30L312.97,223.76L313.14,224.23L313.31,224.70L313.48,225.32L313.64,225.94L313.81,226.56L313.98,227.18L314.15,227.80L314.32,228.43L314.49,229.05L314.66,229.67L314.83,230.29L315.00,230.91L315.17,231.54L315.34,232.16L315.51,232.84L315.68,233.51L315.85,234.19L316.02,234.87L316.19,235.55L316.36,236.23L316.53,236.91L316.70,237.59L316.87,238.26L317.04,238.94L317.21,239.62L317.38,239.91L317.55,240.21L317.72,240.50L317.89,240.79L318.06,241.08L318.23,241.38L318.40,241.67L318.57,241.96L318.74,242.25L318.91,242.55L319.08,242.84L319.25,243.13L319.42,243.43L319.59,243.72L319.76,244.01L319.93,244.30L320.10,244.60L320.27,244.83L320.44,245.06L320.61,245.30L320.78,245.53L320.95,245.76L321.12,246.00L321.29,246.23L321.46,246.46L321.63,246.70L321.80,246.93L321.97,247.16L322.13,247.39L322.30,247.63L322.47,247.86L322.64,248.09L322.81,248.33L322.98,247.53L323.15,246.73L323.32,245.93L323.49,245.13L323.66,244.33L323.83,243.53L324.00,242.73L324.17,241.93L324.34,241.13L324.51,240.33L324.68,239.53L324.85,238.73L325.02,237.93L325.19,237.13L325.36,238.84L325.53,240.55L325.70,242.26L325.87,243.97L326.04,245.68L326.21,247.39L326.38,249.10L326.55,250.82L326.72,252.21L326.89,253.61L327.06,255.01L327.23,256.41L327.40,257.81L327.57,259.21L327.74,260.61L327.91,262.01L328.08,263.00L328.25,264.00L328.42,264.99L328.59,265.99L328.76,266.98L328.93,267.98L329.10,268.97L329.27,269.97L329.44,270.96L329.61,271.96L329.78,272.89L329.95,273.83L330.12,274.76L330.29,275.69L330.46,276.62L330.62,277.56L330.79,278.49L330.96,279.42L331.13,280.36L331.30,281.29L331.47,282.22L331.64,283.15L331.81,284.29L331.98,285.42L332.15,286.55L332.32,287.68L332.49,288.81L332.66,289.94L332.83,291.07L333.00,292.20L333.17,293.33L333.34,294.46L333.51,295.59L333.68,294.66L333.85,293.73L334.02,292.79L334.19,291.86L334.36,290.93L334.53,290.00L334.70,289.06L334.87,288.13L335.04,287.20L335.21,286.26L335.38,285.33L335.55,284.40L335.72,285.95L335.89,287.51L336.06,289.06L336.23,290.62L336.40,292.17L336.57,293.73L336.74,295.28L336.91,296.84L337.08,298.08L337.25,299.32L337.42,300.57L337.59,301.81L337.76,303.06L337.93,304.30L338.10,305.54L338.27,304.17L338.44,302.81L338.61,301.44L338.78,300.07L338.95,298.70L339.11,297.33L339.28,297.97L339.45,298.61L339.62,299.24L339.79,299.88L339.96,300.51L340.13,301.15L340.30,301.78L340.47,302.42L340.64,303.06L340.81,304.14L340.98,305.23L341.15,306.32L341.32,307.41L341.49,308.50L341.66,309.59L341.83,310.67L342.00,311.76L342.17,312.60L342.34,313.43L342.51,314.27L342.68,315.10L342.85,315.94L343.02,316.77L343.19,317.61L343.36,317.40L343.53,317.18L343.70,316.97L343.87,316.76L344.04,316.55L344.21,316.34L344.38,316.13L344.55,315.92L344.72,315.70L344.89,315.49L345.06,315.74L345.23,315.99L345.40,316.24L345.57,316.49L345.74,316.74L345.91,316.99L346.08,317.23L346.25,317.48L346.42,317.73L346.59,317.98L346.76,317.76L346.93,317.55L347.10,317.33L347.27,317.11L347.44,316.89L347.60,316.67L347.77,316.46L347.94,316.24L348.11,316.02L348.28,315.80L348.45,315.59L348.62,315.37L348.79,315.15L348.96,314.93L349.13,314.72L349.30,314.50L349.47,314.29L349.64,314.07L349.81,313.86L349.98,313.65L350.15,313.43L350.32,313.22L350.49,313.01L350.66,312.79L350.83,312.58L351.00,312.37L351.17,312.15L351.34,311.94L351.51,311.73L351.68,311.51L351.85,312.28L352.02,313.06L352.19,313.83L352.36,314.60L352.53,315.37L352.70,316.14L352.87,316.91L353.04,317.68L353.21,318.45L353.38,319.22L353.55,319.56L353.72,319.90L353.89,320.23L354.06,320.57L354.23,320.90L354.40,321.24L354.57,321.58L354.74,321.91L354.91,322.25L355.08,322.58L355.25,322.74L355.42,322.91L355.59,323.07L355.76,323.23L355.93,323.39L356.09,323.55L356.26,323.71L356.43,323.88L356.60,324.04L356.77,324.20L356.94,324.20L357.11,324.20L357.28,324.20L357.45,324.20L357.62,324.20L357.79,324.20L357.96,324.20L358.13,324.20L358.30,324.20L358.47,324.20L358.64,324.20L358.81,324.20L358.98,324.20L359.15,324.20L359.32,324.20L359.49,324.20L359.66,324.20L359.83,324.20L360.00,324.20L360.17,324.20L360.34,324.20L360.51,324.20L360.68,324.20L360.85,324.20L361.02,324.20L361.19,324.20L361.36,324.20L361.53,324.20L361.70,324.20L361.87,324.20L362.04,324.20L362.21,324.20L362.38,324.20L362.55,324.20L362.72,324.20L362.89,324.20L363.06,324.20L363.23,324.20L363.40,324.20L363.57,324.20L363.74,324.20L363.91,324.20L364.08,324.20L364.25,324.20L364.42,324.20L364.58,324.20L364.75,324.20L364.92,324.20L365.09,324.20L365.26,324.20L365.43,324.20L365.60,324.20L365.77,324.20L365.94,324.20L366.11,324.20L366.28,324.20L366.45,324.20L366.62,324.20L366.79,324.20L366.96,324.20L367.13,324.20L367.30,324.20L367.47,324.20L367.64,324.20L367.81,324.20L367.98,324.20L368.15,324.20L368.32,324.20L368.49,324.20L368.66,324.20L368.83,324.20L369.00,324.20L369.17,324.20L369.34,324.20L369.51,324.20L369.68,324.20L369.85,324.20L370.02,324.20L370.19,324.20L370.36,324.20L370.53,324.20L370.70,324.20L370.87,324.20L371.04,324.20L371.21,324.20L371.38,324.20L371.55,324.20L371.72,324.20L371.89,324.20L372.06,324.20L372.23,324.20L372.40,324.20L372.57,324.20L372.74,324.20L372.91,324.20L373.07,324.20L373.24,324.20L373.41,324.20L373.58,324.20L373.75,324.20L373.92,324.20L374.09,324.20L374.26,324.20L374.43,324.20L374.60,324.20L374.77,324.20L374.94,324.20L375.11,324.20L375.28,324.20L375.45,324.20L375.62,324.20L375.79,324.20L375.96,324.20L376.13,324.20L376.30,324.20L376.47,324.20L376.64,324.20L376.81,324.20L376.98,324.20L377.15,324.20L377.32,324.20L377.49,324.20L377.66,324.20L377.83,324.20L378.00,324.20L378.17,324.20L378.34,324.20L378.51,324.20L378.68,324.20L378.85,324.20L379.02,324.20L379.19,324.20L379.36,324.20L379.53,324.20L379.70,324.20L379.87,324.20L380.04,324.20L380.21,324.20L380.38,324.20L380.55,324.20L380.72,324.20L380.89,324.20L381.06,324.20L381.23,324.20L381.39,324.20L381.56,324.20L381.73,324.20L381.90,324.20L382.07,324.20L382.24,324.20L382.41,324.20L382.58,324.20L382.75,324.20L382.92,324.20L383.09,324.20L383.26,324.20L383.43,324.20L383.60,324.20L383.77,324.20L383.94,324.20L384.11,324.20L384.28,324.20L384.45,324.20L384.62,324.20L384.79,324.20L384.96,324.20L385.13,324.20L385.30,324.20L385.47,324.20L385.64,324.20L385.81,324.20L385.98,324.20L386.15,324.20L386.32,324.20L386.49,324.20L386.66,324.20L386.83,324.20L387.00,324.20L387.17,324.20L387.34,324.20L387.51,324.20L387.68,324.20L387.85,324.20L388.02,324.20L388.19,324.20L388.36,324.20L388.53,324.20L388.70,324.20L388.87,324.20L389.04,324.20L389.21,324.20L389.38,324.20L389.55,324.20L389.72,324.20L389.88,324.20L390.05,324.20L390.22,324.20L390.39,324.20L390.56,324.20L390.73,324.20L390.90,324.20L391.07,324.20L391.24,324.20L391.41,324.20L391.58,324.20L391.75,324.20L391.92,324.20L392.09,324.20L392.26,324.20L392.43,324.20L392.60,324.20L392.77,324.20L392.94,324.20L393.11,324.20L393.28,324.20L393.45,324.20L393.62,324.20L393.79,324.20L393.96,324.20L394.13,324.20L394.30,324.20L394.47,324.20L394.64,324.20L394.81,324.20L394.98,324.20L395.15,324.20L395.32,324.20L395.49,324.20L395.66,324.20L395.83,324.20L396.00,324.20L396.17,324.20L396.34,324.20L396.51,324.20L396.68,324.20L396.85,324.20L397.02,324.20L397.19,324.20L397.36,324.20L397.53,324.20L397.70,324.20L397.87,324.20L398.04,324.20L398.21,324.20L398.38,324.20L398.54,324.20L398.71,324.20L398.88,324.20L399.05,324.20L399.22,324.20L399.39,324.20L399.56,324.20L399.73,324.20L399.90,324.20L400.07,324.20L400.24,324.20L400.41,324.20L400.58,324.20L400.75,324.20L400.92,324.20L401.09,324.20L401.26,324.20L401.43,324.20L401.60,324.20L401.77,324.20L401.94,324.20L402.11,324.20L402.28,324.20L402.45,324.20L402.62,324.20L402.79,324.20L402.96,324.20L403.13,324.20L403.30,324.20L403.47,324.20L403.64,324.20L403.81,324.20L403.98,324.20L404.15,324.20L404.32,324.20L404.49,324.20L404.66,324.20L404.83,324.20L405.00,324.20L405.17,324.20L405.34,324.20L405.51,324.20L405.68,324.20L405.85,324.20L406.02,324.20L406.19,324.20L406.36,324.20L406.53,324.20L406.70,324.20L406.87,324.20L407.03,324.20L407.20,324.20L407.37,324.20L407.54,324.20L407.71,324.20L407.88,324.20L408.05,324.20L408.22,324.20L408.39,324.20L408.56,324.20L408.73,324.20L408.90,324.20L409.07,324.20L409.24,324.20L409.41,324.20L409.58,324.20L409.75,324.20L409.92,324.20L410.09,324.20L410.26,324.20L410.43,324.20L410.60,324.20L410.77,324.20L410.94,324.20L411.11,324.20L411.28,324.20L411.45,324.20L411.62,324.20L411.79,324.20L411.96,324.20L412.13,324.20L412.30,324.20L412.47,324.20L412.64,324.20L412.81,324.20L412.98,324.20L413.15,324.20L413.32,324.20L413.49,324.20L413.66,324.20L413.83,324.20L414.00,324.20L414.17,324.20L414.34,324.20L414.51,324.20L414.68,324.20L414.85,324.20L415.02,324.20L415.19,324.20L415.36,324.20L415.52,324.20L415.69,324.20L415.86,324.20L416.03,324.20L416.20,324.20L416.37,324.20L416.54,324.20L416.71,324.20L416.88,324.20L417.05,324.20L417.22,324.20L417.39,324.20L417.56,324.20L417.73,324.20L417.90,324.20L418.07,324.20L418.24,324.20L418.41,324.20L418.58,324.20L418.75,324.20L418.92,324.20L419.09,324.20L419.26,324.20L419.43,324.20L419.60,324.20" stroke="#ff0000" stroke-width="1.45" stroke-dasharray="1 0.95" fill="none"/>
</g>
<g font-size="8.20" fill="#262626" stroke="#262626" stroke-width="0.15"><text x="247.09" y="335.10" textLength="4.23" lengthAdjust="spacingAndGlyphs">0</text><text x="278.93" y="335.10" textLength="8.45" lengthAdjust="spacingAndGlyphs">20</text><text x="312.89" y="335.10" textLength="8.45" lengthAdjust="spacingAndGlyphs">40</text><text x="346.85" y="335.10" textLength="8.45" lengthAdjust="spacingAndGlyphs">60</text><text x="380.81" y="335.10" textLength="8.45" lengthAdjust="spacingAndGlyphs">80</text><text x="412.66" y="335.10" textLength="12.68" lengthAdjust="spacingAndGlyphs">100</text><text x="240.97" y="326.50" textLength="4.23" lengthAdjust="spacingAndGlyphs">0</text><text x="234.63" y="301.62" textLength="10.57" lengthAdjust="spacingAndGlyphs">0.2</text><text x="234.63" y="276.75" textLength="10.57" lengthAdjust="spacingAndGlyphs">0.4</text><text x="234.63" y="251.87" textLength="10.57" lengthAdjust="spacingAndGlyphs">0.6</text><text x="234.63" y="227.00" textLength="10.57" lengthAdjust="spacingAndGlyphs">0.8</text><text x="240.97" y="202.12" textLength="4.23" lengthAdjust="spacingAndGlyphs">1</text></g>
<text x="331.90" y="346.00" text-anchor="middle" font-size="8.45" fill="#262626" stroke="#262626" stroke-width="0.15">Degree k</text>
<text transform="translate(229.90,264.90) rotate(-90)" text-anchor="middle" font-size="8.4" fill="#262626" stroke="#262626" stroke-width="0.15">Probability of paradox</text>
<text x="326.90" y="189.60" text-anchor="middle" font-size="8.5" font-weight="bold" fill="#000">ArXiv HEP Citations</text>
<path d="M515.25,193.60V324.20M557.50,193.60V324.20M599.75,193.60V324.20M473.00,299.32H642.00M473.00,274.45H642.00M473.00,249.57H642.00M473.00,224.70H642.00M473.00,199.82H642.00" stroke="#e8e8e8" stroke-width="0.6" fill="none"/>
<rect x="473.00" y="193.60" width="169.00" height="130.60" stroke="#ababab" stroke-width="1" fill="none"/>
<path d="M473.00,324.20v-1.9M473.00,193.60v1.9M515.25,324.20v-1.9M515.25,193.60v1.9M557.50,324.20v-1.9M557.50,193.60v1.9M599.75,324.20v-1.9M599.75,193.60v1.9M642.00,324.20v-1.9M642.00,193.60v1.9M473.00,324.20h1.9M642.00,324.20h-1.9M473.00,299.32h1.9M642.00,299.32h-1.9M473.00,274.45h1.9M642.00,274.45h-1.9M473.00,249.57h1.9M642.00,249.57h-1.9M473.00,224.70h1.9M642.00,224.70h-1.9M473.00,199.82h1.9M642.00,199.82h-1.9" stroke="#808080" stroke-width="0.9" fill="none"/>
<clipPath id="c5"><rect x="471.00" y="191.60" width="173.00" height="134.60"/></clipPath>
<g clip-path="url(#c5)">
<g fill="#0000ff"><circle cx="474.48" cy="202.93" r="1.4"/><circle cx="477.44" cy="201.06" r="1.4"/><circle cx="481.45" cy="213.50" r="1.4"/><circle cx="486.10" cy="215.62" r="1.4"/><circle cx="479.55" cy="229.92" r="1.4"/><circle cx="487.79" cy="232.16" r="1.4"/><circle cx="490.32" cy="229.92" r="1.4"/><circle cx="492.01" cy="238.38" r="1.4"/><circle cx="494.12" cy="237.13" r="1.4"/><circle cx="496.24" cy="244.60" r="1.4"/><circle cx="497.93" cy="245.84" r="1.4"/><circle cx="500.46" cy="256.41" r="1.4"/><circle cx="501.52" cy="258.28" r="1.4"/><circle cx="503.21" cy="262.01" r="1.4"/><circle cx="504.69" cy="268.23" r="1.4"/><circle cx="506.80" cy="268.23" r="1.4"/><circle cx="508.91" cy="268.23" r="1.4"/><circle cx="511.02" cy="274.45" r="1.4"/><circle cx="513.14" cy="275.69" r="1.4"/><circle cx="515.25" cy="279.42" r="1.4"/><circle cx="517.36" cy="280.04" r="1.4"/><circle cx="519.48" cy="281.91" r="1.4"/><circle cx="523.07" cy="279.42" r="1.4"/><circle cx="525.81" cy="288.13" r="1.4"/><circle cx="528.98" cy="291.24" r="1.4"/><circle cx="532.15" cy="294.35" r="1.4"/><circle cx="535.32" cy="296.84" r="1.4"/><circle cx="538.91" cy="285.27" r="1.4"/><circle cx="541.02" cy="286.89" r="1.4"/><circle cx="544.83" cy="294.97" r="1.4"/><circle cx="547.57" cy="299.32" r="1.4"/><circle cx="551.16" cy="298.08" r="1.4"/><circle cx="550.11" cy="309.27" r="1.4"/><circle cx="554.33" cy="304.30" r="1.4"/><circle cx="555.39" cy="305.54" r="1.4"/><circle cx="559.61" cy="310.52" r="1.4"/><circle cx="561.73" cy="311.76" r="1.4"/><circle cx="564.89" cy="313.63" r="1.4"/><circle cx="568.06" cy="314.25" r="1.4"/><circle cx="570.17" cy="314.87" r="1.4"/><circle cx="574.40" cy="316.74" r="1.4"/><circle cx="580.74" cy="318.60" r="1.4"/><circle cx="582.85" cy="317.98" r="1.4"/><circle cx="587.08" cy="319.85" r="1.4"/><circle cx="589.19" cy="320.47" r="1.4"/><circle cx="591.30" cy="319.85" r="1.4"/><circle cx="593.41" cy="320.47" r="1.4"/><circle cx="595.52" cy="321.71" r="1.4"/><circle cx="597.64" cy="322.33" r="1.4"/><circle cx="612.85" cy="319.22" r="1.4"/><circle cx="599.75" cy="324.20" r="1.4"/><circle cx="601.44" cy="324.20" r="1.4"/><circle cx="603.13" cy="324.20" r="1.4"/><circle cx="604.82" cy="324.20" r="1.4"/><circle cx="606.51" cy="324.20" r="1.4"/><circle cx="608.20" cy="324.20" r="1.4"/><circle cx="609.89" cy="324.20" r="1.4"/><circle cx="611.58" cy="324.20" r="1.4"/><circle cx="613.27" cy="324.20" r="1.4"/><circle cx="614.96" cy="324.20" r="1.4"/><circle cx="616.65" cy="324.20" r="1.4"/><circle cx="618.34" cy="324.20" r="1.4"/><circle cx="620.03" cy="324.20" r="1.4"/><circle cx="621.72" cy="324.20" r="1.4"/><circle cx="623.41" cy="324.20" r="1.4"/><circle cx="625.10" cy="324.20" r="1.4"/><circle cx="626.79" cy="324.20" r="1.4"/><circle cx="628.48" cy="324.20" r="1.4"/><circle cx="630.17" cy="324.20" r="1.4"/><circle cx="631.86" cy="324.20" r="1.4"/><circle cx="633.55" cy="324.20" r="1.4"/><circle cx="635.24" cy="324.20" r="1.4"/><circle cx="636.93" cy="324.20" r="1.4"/><circle cx="638.62" cy="324.20" r="1.4"/><circle cx="640.31" cy="324.20" r="1.4"/><circle cx="642.00" cy="324.20" r="1.4"/></g>
<path d="M473.00,202.93L474.06,202.70L475.11,205.51L476.17,212.89L477.23,220.27L478.28,225.69L479.34,226.73L480.39,225.60L481.45,224.47L482.51,223.34L483.56,222.21L484.62,223.23L485.68,224.25L486.73,225.58L487.79,228.13L488.84,230.60L489.90,232.78L490.96,234.96L492.01,237.21L493.07,239.57L494.12,241.93L495.18,244.35L496.24,246.84L497.29,249.32L498.35,251.62L499.41,253.80L500.46,255.98L501.52,258.86L502.57,261.93L503.63,264.99L504.69,267.05L505.74,269.10L506.80,269.29L507.86,269.47L508.91,270.09L509.97,270.72L511.02,272.51L512.08,274.31L513.14,276.11L514.19,277.81L515.25,279.38L516.31,280.95L517.36,282.53L518.42,283.67L519.48,284.54L520.53,285.40L521.59,286.26L522.64,286.06L523.70,285.85L524.76,285.64L525.81,287.07L526.87,288.50L527.92,289.93L528.98,291.36L530.04,292.36L531.09,293.35L532.15,294.35L533.21,295.73L534.26,297.11L535.32,298.49L536.38,298.61L537.43,296.84L538.49,292.13L539.54,291.48L540.60,293.53L541.66,295.20L542.71,296.62L543.77,298.04L544.83,299.79L545.88,301.61L546.94,303.43L547.99,306.54L549.05,309.65L550.11,309.69L551.16,305.85L552.22,310.08L553.27,311.30L554.33,306.32L555.39,305.91L556.44,310.97L557.50,313.81L558.56,313.47L559.61,312.78L560.67,314.60L561.73,316.60L562.78,315.78L563.84,315.78L564.89,317.61L565.95,317.82L567.01,317.19L568.06,317.34L569.12,318.09L570.17,319.53L571.23,319.47L572.29,317.98L573.34,318.38L574.40,317.87L575.46,316.93L576.51,320.22L577.57,318.57L578.62,319.06L579.68,321.89L580.74,321.07L581.79,323.00L582.85,323.56L583.91,323.44L584.96,322.54L586.02,324.20L587.08,323.05L588.13,323.45L589.19,322.30L590.24,322.56L591.30,322.48L592.36,322.36L593.41,323.38L594.47,324.20L595.52,323.06L596.58,324.00L597.64,323.89L598.69,324.04L599.75,324.20L600.81,324.20L601.86,324.20L602.92,324.20L603.98,324.20L605.03,324.20L606.09,324.20L607.14,324.20L608.20,324.20L609.26,324.20L610.31,324.20L611.37,324.20L612.42,324.20L613.48,324.20L614.54,324.20L615.59,324.20L616.65,324.20L617.71,324.20L618.76,324.20L619.82,324.20L620.88,324.20L621.93,324.20L622.99,324.20L624.04,324.20L625.10,324.20L626.16,324.20L627.21,324.20L628.27,324.20L629.33,324.20L630.38,324.20L631.44,324.20L632.49,324.20L633.55,324.20L634.61,324.20L635.66,324.20L636.72,324.20L637.77,324.20L638.83,324.20L639.89,324.20L640.94,324.20L642.00,324.20" stroke="#ff0000" stroke-width="1.4" stroke-linejoin="round" fill="none"/>
<path d="M473.00,202.93L473.21,203.33L473.42,203.73L473.63,204.14L473.85,204.54L474.06,204.94L474.27,205.34L474.48,205.75L474.69,206.15L474.90,206.55L475.11,206.95L475.32,207.36L475.54,207.76L475.75,208.16L475.96,208.56L476.17,208.96L476.38,209.37L476.59,209.77L476.80,213.31L477.01,216.86L477.23,220.40L477.44,223.95L477.65,224.60L477.86,225.24L478.07,225.89L478.28,226.54L478.49,227.18L478.70,226.98L478.92,226.77L479.13,226.56L479.34,226.35L479.55,226.15L479.76,225.94L479.97,225.73L480.18,225.52L480.39,225.32L480.61,225.11L480.82,224.90L481.03,224.70L481.24,224.49L481.45,224.28L481.66,224.07L481.87,223.87L482.08,223.66L482.30,223.45L482.51,223.24L482.72,223.04L482.93,222.83L483.14,222.62L483.35,222.41L483.56,222.21L483.77,222.30L483.99,222.39L484.20,222.47L484.41,222.56L484.62,222.65L484.83,222.74L485.04,222.83L485.25,222.92L485.46,223.01L485.68,223.10L485.89,223.18L486.10,223.27L486.31,223.36L486.52,223.45L486.73,223.76L486.94,224.07L487.15,224.38L487.37,224.70L487.58,225.01L487.79,225.32L488.00,225.63L488.21,225.94L488.42,226.25L488.63,226.56L488.84,226.82L489.06,227.08L489.27,227.33L489.48,227.59L489.69,227.85L489.90,228.11L490.11,228.36L490.32,228.62L490.53,228.88L490.75,229.14L490.96,229.40L491.17,229.65L491.38,229.91L491.59,230.17L491.80,230.63L492.01,231.10L492.22,231.56L492.44,232.03L492.65,232.49L492.86,232.95L493.07,233.42L493.28,233.88L493.49,234.35L493.70,234.81L493.91,235.28L494.12,235.74L494.34,236.20L494.55,236.67L494.76,237.13L494.97,237.67L495.18,238.20L495.39,238.73L495.60,239.27L495.81,239.80L496.03,240.33L496.24,240.86L496.45,241.40L496.66,241.93L496.87,242.46L497.08,243.00L497.29,243.53L497.50,244.06L497.72,244.60L497.93,245.17L498.14,245.75L498.35,246.33L498.56,246.91L498.77,247.48L498.98,248.06L499.19,248.64L499.41,249.22L499.62,249.79L499.83,250.37L500.04,250.95L500.25,251.53L500.46,252.10L500.67,252.68L500.88,253.58L501.10,254.48L501.31,255.38L501.52,256.27L501.73,257.17L501.94,258.07L502.15,258.97L502.36,259.87L502.57,260.77L502.79,261.60L503.00,262.43L503.21,263.27L503.42,264.10L503.63,264.93L503.84,265.77L504.05,266.60L504.26,267.43L504.48,268.27L504.69,269.10L504.90,269.63L505.11,270.17L505.32,270.70L505.53,271.24L505.74,271.77L505.95,272.31L506.17,272.84L506.38,273.38L506.59,273.91L506.80,274.45L507.01,275.00L507.22,275.55L507.43,276.11L507.64,276.66L507.86,277.21L508.07,277.76L508.28,278.32L508.49,278.87L508.70,279.42L508.91,279.99L509.12,280.55L509.33,281.12L509.55,281.68L509.76,282.25L509.97,282.82L510.18,283.38L510.39,283.95L510.60,284.51L510.81,285.08L511.02,285.64L511.24,286.02L511.45,286.40L511.66,286.79L511.87,287.17L512.08,287.55L512.29,287.93L512.50,288.31L512.72,288.69L512.93,289.07L513.14,289.46L513.35,289.84L513.56,290.22L513.77,290.60L513.98,290.98L514.19,291.36L514.40,291.89L514.62,292.42L514.83,292.96L515.04,293.49L515.25,294.02L515.46,294.55L515.67,295.08L515.88,295.61L516.10,296.14L516.31,296.67L516.52,297.20L516.73,297.73L516.94,298.26L517.15,298.79L517.36,299.32L517.57,300.00L517.78,300.67L518.00,301.34L518.21,302.02L518.42,302.69L518.63,303.37L518.84,304.04L519.05,304.71L519.26,305.39L519.48,306.06L519.69,306.73L519.90,307.41L520.11,307.63L520.32,307.85L520.53,308.07L520.74,308.30L520.95,308.52L521.16,308.74L521.38,308.96L521.59,309.19L521.80,309.41L522.01,309.63L522.22,309.85L522.43,310.07L522.64,310.30L522.86,310.52L523.07,310.43L523.28,310.34L523.49,310.25L523.70,310.16L523.91,310.07L524.12,309.99L524.33,309.90L524.54,309.84L524.76,309.79L524.97,309.74L525.18,309.69L525.39,309.64L525.60,309.59L525.81,309.53L526.02,309.48L526.24,309.43L526.45,309.38L526.66,309.33L526.87,309.27L527.08,309.63L527.29,309.98L527.50,310.33L527.71,310.68L527.92,311.04L528.14,311.39L528.35,311.74L528.56,312.09L528.77,312.45L528.98,312.80L529.19,313.15L529.40,313.50L529.62,313.76L529.83,314.02L530.04,314.27L530.25,314.53L530.46,314.79L530.67,315.04L530.88,315.30L531.09,315.56L531.31,315.81L531.52,316.07L531.73,316.33L531.94,316.58L532.15,316.84L532.36,317.09L532.57,317.35L532.78,317.61L533.00,317.85L533.21,318.09L533.42,318.33L533.63,318.57L533.84,318.82L534.05,319.06L534.26,319.30L534.47,319.54L534.69,319.78L534.90,320.02L535.11,320.26L535.32,320.51L535.53,320.75L535.74,320.99L535.95,321.23L536.16,321.47L536.38,321.71L536.59,321.19L536.80,320.68L537.01,320.16L537.22,319.64L537.43,319.12L537.64,318.60L537.85,318.08L538.07,317.57L538.28,317.05L538.49,316.53L538.70,316.01L538.91,315.49L539.12,315.73L539.33,315.96L539.54,316.19L539.75,316.43L539.97,316.66L540.18,316.89L540.39,317.13L540.60,317.36L540.81,317.57L541.02,317.77L541.23,317.98L541.44,318.19L541.66,318.40L541.87,318.60L542.08,318.81L542.29,319.02L542.50,319.22L542.71,319.43L542.92,319.64L543.13,319.85L543.35,320.05L543.56,320.26L543.77,320.47L543.98,320.63L544.19,320.80L544.40,320.97L544.61,321.13L544.83,321.30L545.04,321.46L545.25,321.63L545.46,321.80L545.67,321.96L545.88,322.13L546.09,322.29L546.30,322.46L546.51,322.62L546.73,322.79L546.94,322.96L547.15,323.00L547.36,323.05L547.57,323.10L547.78,323.15L547.99,323.20L548.21,323.24L548.42,323.29L548.63,323.34L548.84,323.39L549.05,323.43L549.26,323.48L549.47,323.53L549.68,323.58L549.89,323.54L550.11,323.50L550.32,323.47L550.53,323.43L550.74,323.40L550.95,323.36L551.16,323.32L551.37,323.29L551.59,323.25L551.80,323.21L552.01,323.18L552.22,323.14L552.43,323.10L552.64,323.07L552.85,323.03L553.06,322.99L553.27,322.96L553.49,322.97L553.70,322.98L553.91,322.99L554.12,323.01L554.33,323.02L554.54,323.03L554.75,323.04L554.97,323.06L555.18,323.07L555.39,323.08L555.60,323.09L555.81,323.11L556.02,323.12L556.23,323.13L556.44,323.14L556.65,323.16L556.87,323.17L557.08,323.18L557.29,323.19L557.50,323.20L557.71,323.21L557.92,323.21L558.13,323.21L558.35,323.21L558.56,323.22L558.77,323.22L558.98,323.22L559.19,323.22L559.40,323.23L559.61,323.23L559.82,323.23L560.03,323.23L560.25,323.24L560.46,323.24L560.67,323.24L560.88,323.24L561.09,323.25L561.30,323.25L561.51,323.25L561.73,323.25L561.94,323.26L562.15,323.26L562.36,323.26L562.57,323.26L562.78,323.27L562.99,323.27L563.20,323.27L563.41,323.27L563.63,323.28L563.84,323.28L564.05,323.28L564.26,323.28L564.47,323.29L564.68,323.29L564.89,323.29L565.11,323.29L565.32,323.30L565.53,323.30L565.74,323.30L565.95,323.30L566.16,323.31L566.37,323.31L566.58,323.31L566.79,323.31L567.01,323.32L567.22,323.32L567.43,323.32L567.64,323.32L567.85,323.33L568.06,323.33L568.27,323.33L568.49,323.33L568.70,323.34L568.91,323.34L569.12,323.34L569.33,323.34L569.54,323.35L569.75,323.35L569.96,323.35L570.17,323.35L570.39,323.36L570.60,323.36L570.81,323.36L571.02,323.36L571.23,323.37L571.44,323.37L571.65,323.37L571.87,323.37L572.08,323.38L572.29,323.38L572.50,323.38L572.71,323.38L572.92,323.39L573.13,323.39L573.34,323.39L573.55,323.39L573.77,323.40L573.98,323.40L574.19,323.40L574.40,323.40L574.61,323.41L574.82,323.41L575.03,323.41L575.25,323.41L575.46,323.42L575.67,323.42L575.88,323.42L576.09,323.42L576.30,323.43L576.51,323.43L576.72,323.43L576.93,323.43L577.15,323.44L577.36,323.44L577.57,323.44L577.78,323.44L577.99,323.45L578.20,323.45L578.41,323.45L578.62,323.45L578.84,323.46L579.05,323.46L579.26,323.46L579.47,323.46L579.68,323.46L579.89,323.46L580.10,323.46L580.32,323.47L580.53,323.47L580.74,323.47L580.95,323.47L581.16,323.47L581.37,323.47L581.58,323.48L581.79,323.48L582.00,323.48L582.22,323.48L582.43,323.48L582.64,323.48L582.85,323.48L583.06,323.49L583.27,323.49L583.48,323.49L583.70,323.49L583.91,323.49L584.12,323.49L584.33,323.50L584.54,323.50L584.75,323.50L584.96,323.50L585.17,323.50L585.38,323.50L585.60,323.51L585.81,323.51L586.02,323.51L586.23,323.51L586.44,323.51L586.65,323.51L586.86,323.51L587.08,323.52L587.29,323.52L587.50,323.52L587.71,323.52L587.92,323.52L588.13,323.52L588.34,323.53L588.55,323.53L588.76,323.53L588.98,323.53L589.19,323.53L589.40,323.53L589.61,323.53L589.82,323.54L590.03,323.54L590.24,323.54L590.46,323.54L590.67,323.54L590.88,323.54L591.09,323.55L591.30,323.55L591.51,323.55L591.72,323.55L591.93,323.55L592.14,323.55L592.36,323.55L592.57,323.56L592.78,323.56L592.99,323.56L593.20,323.56L593.41,323.56L593.62,323.56L593.84,323.57L594.05,323.57L594.26,323.57L594.47,323.57L594.68,323.57L594.89,323.57L595.10,323.57L595.31,323.58L595.52,323.58L595.74,323.59L595.95,323.61L596.16,323.62L596.37,323.64L596.58,323.66L596.79,323.67L597.00,323.69L597.22,323.70L597.43,323.72L597.64,323.73L597.85,323.75L598.06,323.76L598.27,323.78L598.48,323.80L598.69,323.81L598.90,323.83L599.12,323.84L599.33,323.86L599.54,323.87L599.75,323.89L599.96,323.90L600.17,323.92L600.38,323.94L600.60,323.95L600.81,323.97L601.02,323.98L601.23,324.00L601.44,324.01L601.65,324.03L601.86,324.04L602.07,324.06L602.28,324.08L602.50,324.09L602.71,324.11L602.92,324.12L603.13,324.14L603.34,324.15L603.55,324.17L603.76,324.18L603.98,324.20L604.19,324.20L604.40,324.20L604.61,324.20L604.82,324.20L605.03,324.20L605.24,324.20L605.45,324.20L605.66,324.20L605.88,324.20L606.09,324.20L606.30,324.20L606.51,324.20L606.72,324.20L606.93,324.20L607.14,324.20L607.36,324.20L607.57,324.20L607.78,324.20L607.99,324.20L608.20,324.20L608.41,324.20L608.62,324.20L608.83,324.20L609.05,324.20L609.26,324.20L609.47,324.20L609.68,324.20L609.89,324.20L610.10,324.20L610.31,324.20L610.52,324.10L610.74,323.99L610.95,323.89L611.16,323.79L611.37,323.68L611.58,323.58L611.79,323.47L612.00,323.37L612.21,323.27L612.42,323.16L612.64,323.06L612.85,322.96L613.06,323.11L613.27,323.27L613.48,323.42L613.69,323.58L613.90,323.73L614.12,323.89L614.33,324.04L614.54,324.20L614.75,324.20L614.96,324.20L615.17,324.20L615.38,324.20L615.59,324.20L615.81,324.20L616.02,324.20L616.23,324.20L616.44,324.20L616.65,324.20L616.86,324.20L617.07,324.20L617.28,324.20L617.50,324.20L617.71,324.20L617.92,324.20L618.13,324.20L618.34,324.20L618.55,324.20L618.76,324.20L618.97,324.20L619.18,324.20L619.40,324.20L619.61,324.20L619.82,324.20L620.03,324.20L620.24,324.20L620.45,324.20L620.66,324.20L620.88,324.20L621.09,324.20L621.30,324.20L621.51,324.20L621.72,324.20L621.93,324.20L622.14,324.20L622.35,324.20L622.57,324.20L622.78,324.20L622.99,324.20L623.20,324.20L623.41,324.20L623.62,324.20L623.83,324.20L624.04,324.20L624.25,324.20L624.47,324.20L624.68,324.20L624.89,324.20L625.10,324.20L625.31,324.20L625.52,324.20L625.73,324.20L625.94,324.20L626.16,324.20L626.37,324.20L626.58,324.20L626.79,324.20L627.00,324.20L627.21,324.20L627.42,324.20L627.63,324.20L627.85,324.20L628.06,324.20L628.27,324.20L628.48,324.20L628.69,324.20L628.90,324.20L629.11,324.20L629.33,324.20L629.54,324.20L629.75,324.20L629.96,324.20L630.17,324.20L630.38,324.20L630.59,324.20L630.80,324.20L631.01,324.20L631.23,324.20L631.44,324.20L631.65,324.20L631.86,324.20L632.07,324.20L632.28,324.20L632.49,324.20L632.71,324.20L632.92,324.20L633.13,324.20L633.34,324.20L633.55,324.20L633.76,324.20L633.97,324.20L634.18,324.20L634.39,324.20L634.61,324.20L634.82,324.20L635.03,324.20L635.24,324.20L635.45,324.20L635.66,324.20L635.87,324.20L636.09,324.20L636.30,324.20L636.51,324.20L636.72,324.20L636.93,324.20L637.14,324.20L637.35,324.20L637.56,324.20L637.77,324.20L637.99,324.20L638.20,324.20L638.41,324.20L638.62,324.20L638.83,324.20L639.04,324.20L639.25,324.20L639.47,324.20L639.68,324.20L639.89,324.20L640.10,324.20L640.31,324.20L640.52,324.20L640.73,324.20L640.94,324.20L641.15,324.20L641.37,324.20L641.58,324.20L641.79,324.20L642.00,324.20" stroke="#ff0000" stroke-width="1.45" stroke-dasharray="1 0.95" fill="none"/>
</g>
<g font-size="8.20" fill="#262626" stroke="#262626" stroke-width="0.15"><text x="470.29" y="335.10" textLength="4.23" lengthAdjust="spacingAndGlyphs">0</text><text x="510.42" y="335.10" textLength="8.45" lengthAdjust="spacingAndGlyphs">20</text><text x="552.67" y="335.10" textLength="8.45" lengthAdjust="spacingAndGlyphs">40</text><text x="594.92" y="335.10" textLength="8.45" lengthAdjust="spacingAndGlyphs">60</text><text x="637.17" y="335.10" textLength="8.45" lengthAdjust="spacingAndGlyphs">80</text><text x="464.17" y="326.50" textLength="4.23" lengthAdjust="spacingAndGlyphs">0</text><text x="457.83" y="301.62" textLength="10.57" lengthAdjust="spacingAndGlyphs">0.2</text><text x="457.83" y="276.75" textLength="10.57" lengthAdjust="spacingAndGlyphs">0.4</text><text x="457.83" y="251.87" textLength="10.57" lengthAdjust="spacingAndGlyphs">0.6</text><text x="457.83" y="227.00" textLength="10.57" lengthAdjust="spacingAndGlyphs">0.8</text><text x="464.17" y="202.12" textLength="4.23" lengthAdjust="spacingAndGlyphs">1</text></g>
<text x="554.70" y="346.00" text-anchor="middle" font-size="8.45" fill="#262626" stroke="#262626" stroke-width="0.15">Degree k</text>
<text transform="translate(453.10,264.90) rotate(-90)" text-anchor="middle" font-size="8.4" fill="#262626" stroke="#262626" stroke-width="0.15">Probability of paradox</text>
<text x="552.10" y="189.60" text-anchor="middle" font-size="8.5" font-weight="bold" fill="#000">English Words</text>
</svg></body></html>
